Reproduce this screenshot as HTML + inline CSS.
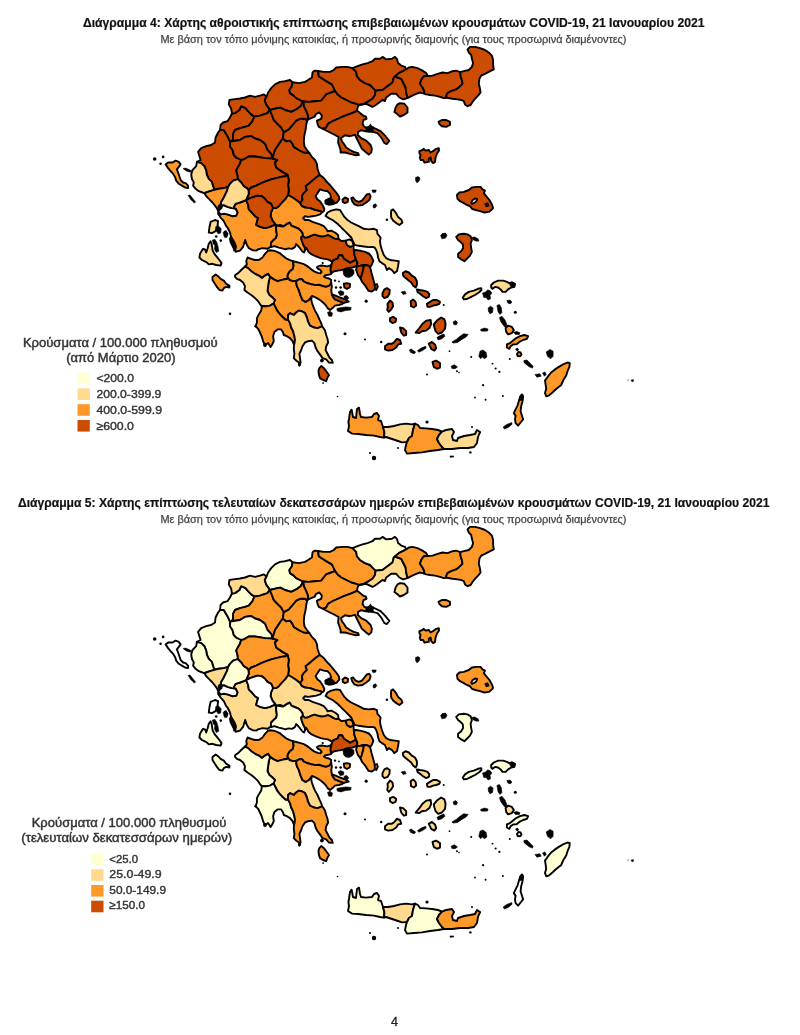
<!DOCTYPE html>
<html><head><meta charset="utf-8"><title>COVID-19 maps</title>
<style>
html,body{margin:0;padding:0;background:#fff}
body{width:800px;height:1035px;overflow:hidden;font-family:"Liberation Sans",sans-serif}
svg{display:block}
.m path{stroke:#000;stroke-linejoin:round}
.m{stroke-width:1.9}
text{font-family:"Liberation Sans",sans-serif}
</style></head><body>
<svg style="will-change:transform" width="800" height="1035" viewBox="0 0 800 1035">
<rect width="800" height="1035" fill="#fff"/>
<g class="m"><path d="M220.0,130.0 218.1,132.5 215.6,137.5 215.0,142.5 211.2,145.0 206.2,146.2 201.2,148.1 198.1,151.9 199.4,156.2 200.6,160.0 196.9,161.9 201.2,163.1 204.4,166.2 206.2,170.6 206.9,175.0 208.8,178.8 211.9,181.9 213.1,186.2 214.4,189.8 218.8,188.8 223.8,188.1 228.1,186.9 230.0,183.8 233.1,180.6 236.9,179.4 238.1,179.4 237.5,175.0 236.2,170.6 238.1,166.9 240.0,163.8 241.2,160.0 236.2,157.5 233.8,155.0 232.5,150.0 230.0,146.2 230.2,141.9 227.5,136.2 223.8,130.0Z" fill="#cc4c02"/><path d="M231.9,113.5 230.0,117.5 227.5,121.2 223.1,122.5 220.6,125.0 220.0,130.0 223.8,130.0 227.5,136.2 230.2,141.9 231.9,141.2 233.1,138.8 233.1,133.8 235.0,130.0 240.0,128.1 245.0,126.9 248.8,125.6 252.5,121.2 254.4,116.5 251.2,114.4 248.1,111.2 245.6,108.1 241.2,106.2 239.4,110.0 235.0,113.1Z" fill="#cc4c02"/><path d="M266.5,96.6 263.8,94.4 260.0,95.6 255.0,96.9 250.0,95.6 245.0,97.5 240.0,98.5 233.1,99.4 229.4,100.0 228.8,104.4 231.2,108.8 231.9,113.5 235.0,113.1 239.4,110.0 241.2,106.2 245.6,108.1 248.1,111.2 251.2,114.4 254.4,116.5 260.0,115.6 267.5,113.1 269.8,110.0 268.8,108.1 266.2,104.4 264.8,100.0Z" fill="#cc4c02"/><path d="M290.0,80.0 285.0,81.2 280.0,81.9 275.0,84.4 271.2,88.1 268.1,92.5 266.5,96.6 264.8,100.0 266.2,104.4 268.8,108.1 269.8,110.0 277.5,108.1 280.2,107.6 285.0,110.0 291.2,111.9 296.2,109.4 300.6,106.2 303.1,101.5 300.0,100.0 296.2,98.1 293.8,95.6 290.0,93.1 289.4,90.0 291.9,86.2 292.5,82.2Z" fill="#cc4c02"/><path d="M318.1,71.0 314.4,70.6 312.5,72.5 311.9,77.5 308.1,80.0 305.0,81.9 298.8,83.1 292.5,82.2 291.9,86.2 289.4,90.0 290.0,93.1 293.8,95.6 296.2,98.1 300.0,100.0 303.1,101.5 308.8,101.9 315.0,101.2 321.2,100.6 323.8,97.5 326.2,94.4 331.2,92.5 335.0,91.2 333.8,88.1 331.9,84.4 327.5,81.9 322.5,78.8 318.8,76.2Z" fill="#cc4c02"/><path d="M352.5,68.1 347.5,66.9 342.5,66.9 336.2,67.5 333.8,70.0 330.0,71.9 323.8,71.9 318.1,71.0 318.8,76.2 322.5,78.8 327.5,81.9 331.9,84.4 333.8,88.1 335.0,91.2 337.5,94.4 341.2,97.5 346.2,100.0 351.2,102.5 356.2,103.8 359.0,105.0 363.8,103.8 367.5,101.9 372.5,98.8 375.0,95.0 375.6,90.6 373.1,88.1 370.0,85.0 365.0,83.1 360.0,80.0 356.9,76.2 356.2,71.9Z" fill="#cc4c02"/><path d="M380.0,58.8 375.0,58.8 372.5,61.2 367.5,63.1 362.5,64.4 357.5,66.2 352.5,68.1 356.2,71.9 356.9,76.2 360.0,80.0 365.0,83.1 370.0,85.0 373.1,88.1 375.6,90.6 382.5,90.0 387.5,86.2 392.5,82.5 393.8,77.5 395.0,76.5 398.8,73.1 403.8,70.6 406.2,69.4 405.0,66.9 401.2,65.6 398.1,63.1 396.9,58.8 395.0,56.9 391.9,58.8 386.2,59.4 382.5,56.9Z" fill="#cc4c02"/><path d="M269.8,110.0 267.5,113.1 260.0,115.6 254.4,116.5 252.5,121.2 248.8,125.6 245.0,126.9 240.0,128.1 235.0,130.0 233.1,133.8 233.1,138.8 231.9,141.2 240.0,140.0 245.0,136.9 251.2,136.0 255.0,138.5 260.0,140.0 265.0,143.8 267.5,150.0 271.2,153.8 272.5,158.5 275.0,150.0 280.0,142.5 282.8,138.5 283.8,132.2 281.9,128.8 281.6,128.1 281.2,127.5 277.5,123.8 273.8,120.0 271.9,115.0Z" fill="#cc4c02"/><path d="M231.9,141.2 230.2,141.9 230.0,146.2 232.5,150.0 233.8,155.0 236.2,157.5 241.2,160.0 243.8,159.4 248.8,156.5 255.0,156.5 265.0,158.1 272.5,158.5 271.2,153.8 267.5,150.0 265.0,143.8 260.0,140.0 255.0,138.5 251.2,136.0 245.0,136.9 240.0,140.0Z" fill="#cc4c02"/><path d="M272.5,158.5 265.0,158.1 255.0,156.5 248.8,156.5 243.8,159.4 241.2,160.0 240.0,163.8 238.1,166.9 236.2,170.6 237.5,175.0 238.1,179.4 241.2,182.5 243.8,186.2 246.9,188.1 248.5,190.2 251.2,187.5 256.2,185.6 261.2,183.1 266.2,181.2 271.2,179.4 276.2,178.1 281.2,176.9 285.6,176.2 287.5,174.6 282.5,171.9 276.2,167.5 275.0,162.5 277.5,160.0Z" fill="#cc4c02"/><path d="M272.5,158.5 277.5,160.0 275.0,162.5 276.2,167.5 282.5,171.9 287.5,174.6 288.8,180.0 288.1,185.0 288.8,190.0 288.1,195.0 292.5,197.5 296.2,200.0 300.0,203.1 302.5,200.0 301.9,196.2 303.8,193.1 306.9,190.0 305.6,186.2 308.8,183.8 312.5,180.6 316.2,177.5 319.8,175.0 318.8,172.5 317.5,168.8 316.9,163.8 315.0,160.0 311.9,156.9 309.4,153.1 303.8,152.5 298.8,150.0 293.8,146.9 292.5,143.8 290.0,140.6 286.2,141.2 282.8,138.5 280.0,142.5 275.0,150.0Z" fill="#cc4c02"/><path d="M335.0,91.2 331.2,92.5 326.2,94.4 323.8,97.5 321.2,100.6 315.0,101.2 308.8,101.9 303.1,101.5 303.8,106.2 306.2,111.2 308.1,116.2 307.2,120.6 308.1,119.4 311.2,118.1 314.4,116.9 316.2,113.8 319.4,112.5 321.9,115.6 321.2,118.8 316.9,120.6 317.5,123.8 318.8,126.9 323.1,128.8 326.2,127.5 328.1,123.8 332.5,121.2 337.5,119.0 343.8,116.2 350.0,113.8 355.0,111.9 356.9,110.6 357.8,106.9 359.0,105.0 356.2,103.8 351.2,102.5 346.2,100.0 341.2,97.5 337.5,94.4Z" fill="#cc4c02"/><path d="M375.6,90.6 375.0,95.0 372.5,98.8 367.5,101.9 363.8,103.8 359.0,105.0 366.2,103.8 372.5,106.9 374.4,106.0 377.5,103.8 382.5,100.0 385.0,101.0 386.2,97.5 391.2,93.8 396.2,93.8 399.4,97.5 403.1,99.4 407.5,98.1 406.2,92.5 405.6,87.5 403.1,82.5 401.2,78.8 395.0,76.5 393.8,77.5 392.5,82.5 387.5,86.2 382.5,90.0Z" fill="#cc4c02"/><path d="M427.8,76.0 426.2,73.1 422.5,70.6 417.5,68.1 412.5,66.9 408.8,67.5 406.2,69.4 403.8,70.6 398.8,73.1 395.0,76.5 401.2,78.8 403.1,82.5 405.6,87.5 406.2,92.5 407.5,98.1 411.2,96.2 416.2,93.8 420.0,92.5 423.8,93.4 424.4,91.2 422.5,87.5 420.0,83.8 421.2,80.0 423.8,76.2Z" fill="#cc4c02"/><path d="M460.2,72.2 456.2,70.6 452.5,71.2 447.5,73.1 442.5,72.5 437.5,73.8 432.5,75.6 427.8,76.0 423.8,76.2 421.2,80.0 420.0,83.8 422.5,87.5 424.4,91.2 423.8,93.4 426.2,94.4 430.0,95.0 435.0,95.6 440.0,96.9 443.8,98.1 446.9,97.8 446.2,96.2 447.5,93.1 451.2,91.2 456.2,89.4 459.4,86.9 462.5,83.8 461.9,80.0 460.6,76.2Z" fill="#cc4c02"/><path d="M446.9,97.8 452.5,98.8 457.5,99.4 461.2,100.0 463.8,101.2 465.0,104.4 467.5,106.2 470.6,105.0 472.5,101.9 475.0,98.8 478.1,95.6 480.6,92.5 480.0,88.8 478.8,83.8 479.4,78.8 481.2,75.6 485.0,73.8 488.8,71.9 491.2,70.6 493.8,69.4 493.1,65.0 493.1,60.0 491.9,55.6 488.8,52.5 485.0,50.0 480.0,48.1 475.0,46.9 470.0,46.9 467.5,49.4 468.8,52.5 471.2,55.0 471.9,58.8 473.1,63.1 471.9,66.9 468.8,70.0 463.8,71.2 460.2,72.2 460.6,76.2 461.9,80.0 462.5,83.8 459.4,86.9 456.2,89.4 451.2,91.2 447.5,93.1 446.2,96.2Z" fill="#cc4c02"/><path d="M356.9,110.6 355.0,111.9 350.0,113.8 343.8,116.2 337.5,119.0 332.5,121.2 328.1,123.8 326.2,127.5 323.1,128.8 325.0,130.0 330.0,132.5 335.0,135.0 338.5,136.9 338.1,142.5 339.4,146.2 340.6,150.0 340.6,152.5 345.0,152.5 350.0,153.8 355.0,155.2 358.8,155.0 358.1,153.1 353.8,151.9 350.0,150.0 346.2,147.5 343.8,143.8 341.9,141.2 341.0,138.1 345.0,135.2 350.0,136.2 355.0,134.8 357.5,140.0 360.0,145.0 361.9,148.8 366.2,152.5 368.8,154.6 371.2,152.5 371.9,148.8 370.6,145.0 366.2,140.6 361.2,138.1 357.8,135.0 358.1,131.9 361.2,130.2 365.6,131.2 372.5,131.9 373.1,127.5 370.0,126.2 367.5,127.5 364.4,126.9 362.5,123.8 363.5,120.0 366.5,118.8 366.0,116.6 363.1,115.6 360.0,113.1Z" fill="#cc4c02"/><path d="M372.5,131.9 377.5,133.1 381.2,137.5 384.4,143.1 386.9,144.0 389.4,141.0 385.0,135.6 380.6,131.2 373.1,127.5Z" fill="#cc4c02"/><path d="M309.4,153.1 306.9,150.0 304.4,146.2 303.8,141.2 304.4,135.0 305.6,130.0 306.2,125.0 307.2,120.6 305.0,118.8 300.0,118.8 296.2,120.6 292.5,125.0 288.8,129.4 283.8,132.2 282.8,138.5 286.2,141.2 290.0,140.6 292.5,143.8 293.8,146.9 298.8,150.0 303.8,152.5Z" fill="#cc4c02"/><path d="M339.4,199.4 338.8,196.2 336.2,192.5 333.1,188.8 330.0,185.0 326.9,181.9 323.8,178.1 319.8,175.0 316.2,177.5 312.5,180.6 308.8,183.8 305.6,186.2 306.9,190.0 303.8,193.1 301.9,196.2 302.5,200.0 300.0,203.1 301.9,206.2 305.0,207.5 310.0,208.1 315.0,210.0 320.0,211.2 322.2,212.2 323.8,211.2 324.4,208.8 322.5,205.0 320.0,201.2 317.5,199.4 315.6,196.2 317.5,193.1 320.0,189.4 323.8,190.6 327.5,191.2 330.0,193.8 331.2,197.5 328.8,198.8 325.6,200.6 325.6,203.4 328.8,204.6 332.5,204.0 336.9,202.5Z" fill="#cc4c02"/><path d="M307.2,120.6 308.1,116.2 306.2,111.2 303.8,106.2 303.1,101.5 300.6,106.2 296.2,109.4 291.2,111.9 285.0,110.0 280.2,107.6 277.5,108.1 269.8,110.0 271.9,115.0 273.8,120.0 277.5,123.8 281.2,127.5 281.6,128.1 283.8,132.2 288.8,129.4 292.5,125.0 296.2,120.6 300.0,118.8 305.0,118.8Z" fill="#cc4c02"/><path d="M322.2,212.2 320.0,211.2 315.0,210.0 310.0,208.1 305.0,207.5 301.9,206.2 300.0,203.1 296.2,200.0 292.5,197.5 288.1,195.0 285.6,198.8 285.0,199.4 282.5,201.9 281.9,202.5 278.8,206.2 276.2,208.1 273.1,208.1 271.2,211.9 270.6,216.2 272.5,220.6 275.0,223.8 276.1,225.6 280.0,225.0 283.6,226.2 286.6,223.9 289.7,222.6 291.4,225.7 294.5,227.0 298.0,228.3 300.6,230.5 302.4,233.1 302.8,236.0 305.0,237.9 307.6,237.5 311.1,235.8 314.6,234.6 318.1,235.8 321.6,236.6 325.1,236.1 327.8,235.1 330.4,236.2 333.0,237.9 335.6,239.0 338.5,238.8 338.1,235.0 335.0,232.5 331.2,230.6 327.5,231.2 326.2,228.8 323.8,226.2 320.0,224.4 316.2,223.1 312.5,221.9 308.8,220.0 305.0,220.0 303.1,218.1 305.0,216.2 308.1,216.9 312.5,216.2 316.2,215.6 320.0,214.4Z" fill="#fe9929"/><path d="M288.1,195.0 288.8,190.0 288.1,185.0 288.8,180.0 287.5,174.6 285.6,176.2 281.2,176.9 276.2,178.1 271.2,179.4 266.2,181.2 261.2,183.1 256.2,185.6 251.2,187.5 248.5,190.2 248.8,193.8 246.9,198.1 246.2,200.2 250.0,198.1 253.8,196.9 257.5,195.6 261.9,196.2 265.0,198.8 267.5,201.9 271.2,203.8 273.1,208.1 276.2,208.1 278.8,206.2 281.9,202.5 282.5,201.9 285.0,199.4Z" fill="#cc4c02"/><path d="M196.9,161.9 196.2,166.2 192.5,170.0 191.2,174.4 191.9,178.8 193.8,182.5 193.1,185.6 195.6,188.8 198.8,191.2 202.5,192.5 204.4,193.1 206.2,192.5 210.0,191.2 214.4,189.8 213.1,186.2 211.9,181.9 208.8,178.8 206.9,175.0 206.2,170.6 204.4,166.2 201.2,163.1Z" fill="#fed98e"/><path d="M204.4,193.1 206.2,196.2 209.4,199.4 212.5,202.5 215.0,205.6 217.2,208.8 218.5,211.9 220.0,208.8 220.6,205.6 221.2,201.9 223.1,198.8 225.0,195.0 226.9,191.2 228.1,186.9 223.8,188.1 218.8,188.8 214.4,189.8 210.0,191.2 206.2,192.5Z" fill="#fe9929"/><path d="M218.5,211.9 218.1,213.8 220.6,217.5 223.8,221.2 226.2,226.2 227.5,227.5 230.0,232.5 231.2,237.5 233.1,241.9 234.4,246.9 235.6,251.9 240.0,250.6 243.1,246.9 244.4,242.5 245.2,240.0 246.9,245.0 248.8,248.1 252.5,250.2 256.2,250.6 258.1,249.4 262.5,248.1 267.5,248.8 270.0,247.1 270.9,247.1 270.9,245.4 271.2,242.5 273.5,240.1 276.0,238.1 276.9,235.0 276.2,230.0 276.1,225.6 273.8,225.0 270.0,226.9 265.0,228.1 260.0,226.9 256.2,225.0 256.9,221.9 258.1,218.1 255.0,216.2 251.9,212.5 248.8,209.4 248.1,205.0 246.2,200.2 240.0,202.5 235.6,203.8 233.8,206.9 233.8,208.4 235.6,208.8 237.5,212.5 236.2,215.6 232.5,216.2 227.5,214.4 223.8,213.8 220.6,214.4Z" fill="#fe9929"/><path d="M220.6,205.6 220.0,208.8 218.5,211.9 220.6,214.4 223.8,213.8 227.5,214.4 232.5,216.2 236.2,215.6 237.5,212.5 235.6,208.8 233.8,208.4 231.9,208.1 227.5,206.9 223.8,205.2Z" fill="#fff"/><path d="M220.6,205.6 223.8,205.2 227.5,206.9 231.9,208.1 233.8,208.4 233.8,206.9 235.6,203.8 240.0,202.5 246.2,200.2 246.9,198.1 248.8,193.8 248.5,190.2 246.9,188.1 243.8,186.2 241.2,182.5 238.1,179.4 236.9,179.4 233.1,180.6 230.0,183.8 228.1,186.9 226.9,191.2 225.0,195.0 223.1,198.8 221.2,201.9Z" fill="#fed98e"/><path d="M273.1,208.1 271.2,203.8 267.5,201.9 265.0,198.8 261.9,196.2 257.5,195.6 253.8,196.9 250.0,198.1 246.2,200.2 248.1,205.0 248.8,209.4 251.9,212.5 255.0,216.2 258.1,218.1 256.9,221.9 256.2,225.0 260.0,226.9 265.0,228.1 270.0,226.9 273.8,225.0 276.1,225.6 275.0,223.8 272.5,220.6 270.6,216.2 271.2,211.9Z" fill="#cc4c02"/><path d="M276.1,225.6 276.2,230.0 276.9,235.0 276.0,238.1 273.5,240.1 271.2,242.5 270.9,245.4 270.9,247.1 274.4,246.2 278.8,247.6 282.2,248.4 285.3,249.3 288.4,248.4 291.9,248.9 294.9,247.1 296.2,244.1 297.6,245.4 299.8,248.0 302.4,251.5 304.1,252.4 305.2,249.6 304.6,247.1 303.2,244.5 301.9,241.0 301.1,237.5 302.8,236.0 302.4,233.1 300.6,230.5 298.0,228.3 294.5,227.0 291.4,225.7 289.7,222.6 287.5,223.8 283.8,226.2 283.6,226.2 283.1,226.6 279.6,226.1Z" fill="#fe9929"/><path d="M302.8,236.0 301.1,237.5 301.9,241.0 303.2,244.5 304.6,247.1 305.2,249.6 305.9,247.6 307.2,249.3 308.5,251.9 311.1,254.1 313.8,255.4 317.2,256.8 320.8,258.1 324.2,258.9 327.8,259.4 330.4,260.7 332.3,262.0 333.4,260.1 337.8,258.4 339.0,255.2 342.1,255.2 343.9,258.8 347.4,261.0 350.0,262.8 353.5,261.0 356.1,259.6 354.4,255.0 353.8,250.2 353.5,245.6 350.0,246.9 346.9,245.0 345.6,240.6 341.2,241.0 338.5,238.8 335.6,239.0 333.0,237.9 330.4,236.2 327.8,235.1 325.1,236.1 321.6,236.6 318.1,235.8 314.6,234.6 311.1,235.8 307.6,237.5 305.0,237.9Z" fill="#cc4c02"/><path d="M270.0,250.2 268.1,250.6 265.0,253.8 262.5,257.5 258.8,260.0 255.0,260.0 251.2,258.8 247.5,257.5 246.2,261.2 246.9,264.4 245.0,266.5 248.1,268.1 251.2,271.2 255.0,273.8 258.8,275.6 261.9,278.1 265.0,275.6 268.1,273.8 270.0,276.9 273.8,279.4 277.5,281.2 281.2,280.2 285.0,279.2 288.5,278.5 287.5,276.9 287.9,274.2 289.7,271.6 292.8,269.0 293.6,265.5 292.8,261.1 289.2,259.8 285.8,258.1 283.1,255.9 280.5,253.7 277.0,251.9 273.5,250.6Z" fill="#fe9929"/><path d="M331.7,263.8 330.4,265.5 326.9,266.4 324.2,265.9 321.6,265.5 319.0,265.9 316.8,267.2 317.7,268.6 320.3,269.9 321.6,272.1 320.3,273.4 317.7,272.9 314.6,271.6 312.0,269.9 309.4,267.7 306.8,265.9 303.2,263.8 299.8,262.9 296.2,262.0 292.8,261.1 293.6,265.5 292.8,269.0 289.7,271.6 287.9,274.2 287.5,276.9 288.5,278.5 289.4,280.0 292.8,281.2 296.9,280.6 299.8,279.0 302.4,279.5 303.2,281.2 306.8,283.0 311.1,284.2 315.5,285.1 319.0,284.8 322.5,286.0 326.0,286.9 329.5,285.6 331.2,283.0 331.0,279.8 329.0,278.5 326.2,277.8 324.0,276.6 325.0,275.4 328.1,274.8 331.0,274.0 331.0,273.4 330.6,268.8Z" fill="#fe9929"/><path d="M332.3,262.0 331.7,263.8 330.6,268.8 331.0,273.4 334.2,271.2 339.5,270.4 343.9,269.5 348.2,268.2 353.5,267.2 357.0,266.0 357.4,262.8 356.1,259.6 353.5,261.0 350.0,262.8 347.4,261.0 343.9,258.8 342.1,255.2 339.0,255.2 337.8,258.4 333.4,260.1Z" fill="#cc4c02"/><path d="M353.5,245.6 352.5,241.2 349.4,239.4 345.6,240.6 346.9,245.0 350.0,246.9Z" fill="#fed98e"/><path d="M353.8,250.2 354.4,255.0 356.1,259.6 357.4,262.8 357.0,266.0 360.5,265.8 364.0,265.0 367.5,265.4 370.1,267.1 371.9,264.5 373.4,260.6 371.2,256.2 368.8,253.5 365.0,251.9 360.0,250.6 356.2,250.0Z" fill="#cc4c02"/><path d="M357.0,266.0 356.1,269.8 357.9,275.0 360.5,278.5 361.8,275.0 363.1,270.6 364.0,265.0 360.5,265.8Z" fill="#cc4c02"/><path d="M360.5,278.5 362.2,282.0 365.8,286.4 368.4,290.8 371.9,291.6 375.4,289.0 374.5,283.8 372.8,277.6 371.4,272.4 370.1,267.1 367.5,265.4 364.0,265.0 363.1,270.6 361.8,275.0Z" fill="#cc4c02"/><path d="M296.9,280.6 292.8,281.2 289.4,280.0 288.5,278.5 285.0,279.2 281.2,280.2 277.5,281.2 273.8,279.4 270.0,276.9 268.8,281.2 268.1,286.2 267.5,291.2 269.4,295.0 272.5,297.5 275.0,300.0 273.5,303.5 275.6,307.5 277.5,311.2 280.0,314.4 283.1,317.5 285.6,319.8 288.1,319.8 288.1,315.0 290.0,313.1 293.8,315.0 296.2,312.5 298.8,310.6 301.9,311.2 305.0,313.1 306.9,317.5 308.1,321.9 310.0,325.6 313.8,327.5 317.5,328.1 321.2,326.9 322.0,326.2 321.2,323.1 319.4,319.4 317.5,315.0 315.0,310.6 313.1,306.2 311.9,302.5 311.2,299.4 311.9,296.0 308.8,300.0 305.6,301.9 302.5,300.0 300.6,295.6 298.8,290.0 296.9,286.2 296.2,282.5Z" fill="#fe9929"/><path d="M331.2,283.0 329.5,285.6 326.0,286.9 322.5,286.0 319.0,284.8 315.5,285.1 311.1,284.2 306.8,283.0 303.2,281.2 302.4,279.5 299.8,279.0 296.9,280.6 296.2,282.5 296.9,286.2 298.8,290.0 300.6,295.6 302.5,300.0 305.6,301.9 308.8,300.0 311.9,296.0 314.4,296.9 316.9,298.1 320.0,300.0 323.1,302.5 325.6,305.0 327.5,308.1 330.0,310.0 332.5,308.1 335.0,305.6 338.8,305.0 342.5,303.8 343.8,302.8 339.4,301.2 335.0,299.4 333.1,296.9 331.9,294.4 331.2,290.0 331.9,286.9Z" fill="#fe9929"/><path d="M343.8,302.8 348.8,301.5 345.0,299.4 340.0,297.5 335.6,295.6 331.9,294.4 333.1,296.9 335.0,299.4 339.4,301.2Z" fill="#cc4c02"/><path d="M270.0,276.9 268.1,273.8 265.0,275.6 261.9,278.1 258.8,275.6 255.0,273.8 251.2,271.2 248.1,268.1 245.0,266.5 241.2,270.0 238.1,273.1 235.2,275.0 235.0,276.9 236.9,278.8 240.0,280.0 243.1,282.5 245.0,286.2 244.4,290.0 247.5,292.5 251.2,295.0 255.0,298.1 258.1,301.2 260.6,305.0 261.9,306.2 266.2,306.2 270.0,305.6 273.5,303.5 275.0,300.0 272.5,297.5 269.4,295.0 267.5,291.2 268.1,286.2 268.8,281.2Z" fill="#fed98e"/><path d="M273.5,303.5 270.0,305.6 266.2,306.2 261.9,306.2 261.2,310.6 258.8,314.4 256.9,318.1 256.9,322.5 255.6,326.2 258.1,328.8 260.0,332.5 261.9,336.9 263.1,341.2 264.8,345.0 268.1,343.1 270.6,346.9 271.9,345.0 273.8,341.2 273.1,336.2 274.4,331.9 277.5,329.4 281.2,329.4 283.1,332.5 283.8,335.0 286.9,336.2 290.0,338.1 292.5,341.2 294.0,344.6 294.4,343.8 295.0,340.0 294.4,336.2 293.1,331.2 291.2,327.5 290.0,323.1 288.1,319.8 285.6,319.8 283.1,317.5 280.0,314.4 277.5,311.2 275.6,307.5Z" fill="#fe9929"/><path d="M288.1,319.8 290.0,323.1 291.2,327.5 293.1,331.2 294.4,336.2 295.0,340.0 294.4,343.8 294.0,344.6 293.8,348.8 294.4,353.8 293.8,358.1 296.2,360.6 298.8,362.5 299.4,365.6 300.6,362.5 300.0,358.1 299.4,353.8 301.2,350.0 302.5,346.2 305.0,342.5 308.1,341.2 311.9,340.6 314.4,343.1 315.6,347.5 317.5,351.2 320.0,354.4 322.5,358.1 326.2,359.4 328.8,362.5 332.8,362.8 331.9,360.0 329.4,357.5 327.5,353.8 325.6,350.0 326.2,346.2 328.1,342.5 327.5,338.8 326.2,335.0 325.0,330.6 323.1,327.5 322.0,326.2 321.2,326.9 317.5,328.1 313.8,327.5 310.0,325.6 308.1,321.9 306.9,317.5 305.0,313.1 301.9,311.2 298.8,310.6 296.2,312.5 293.8,315.0 290.0,313.1 288.1,315.0Z" fill="#fed98e"/><path d="M383.0,427.0 381.0,421.0 378.0,420.0 379.0,416.0 377.0,413.0 374.0,414.0 372.0,417.0 366.0,417.6 361.0,417.0 360.0,414.0 359.0,407.6 357.0,409.0 356.0,418.0 353.0,417.0 351.6,409.6 350.0,412.0 349.0,419.0 348.4,422.0 349.0,426.0 348.0,431.0 352.0,433.6 358.0,434.0 366.0,435.0 374.0,435.6 380.0,437.0 384.0,437.6 384.4,432.0Z" fill="#fe9929"/><path d="M415.0,423.6 412.0,424.4 406.0,423.6 400.0,424.4 394.0,426.0 388.0,427.0 383.0,427.0 384.4,432.0 384.0,437.6 386.0,437.0 392.0,439.0 398.0,441.0 402.0,442.4 407.0,442.0 409.0,438.0 412.0,436.0 413.0,430.0Z" fill="#fed98e"/><path d="M442.0,431.6 438.0,430.0 432.0,429.0 426.0,428.4 420.0,428.0 418.0,425.0 415.0,423.6 413.0,430.0 412.0,436.0 409.0,438.0 407.0,442.0 406.0,445.0 405.0,450.0 407.0,453.6 414.0,453.0 422.0,452.4 430.0,451.0 438.0,450.0 444.0,449.0 442.0,447.0 439.0,443.0 437.0,439.0 439.0,435.0Z" fill="#fe9929"/><path d="M444.0,449.0 452.0,449.0 460.0,448.0 468.0,448.0 474.0,447.0 477.0,443.0 478.0,437.0 480.0,432.0 477.0,430.0 475.0,434.0 470.0,435.0 464.0,436.0 458.0,438.0 457.0,441.0 453.0,440.0 452.0,436.0 454.0,432.0 452.0,429.0 446.0,430.0 442.0,431.6 439.0,435.0 437.0,439.0 439.0,443.0 442.0,447.0Z" fill="#fed98e"/><path d="M400.0,103.1 404.4,103.8 407.5,107.5 407.5,112.5 403.8,115.0 400.0,116.5 396.9,113.8 394.4,111.9 395.6,107.5 397.5,104.4Z" fill="#cc4c02"/><path d="M438.5,121.9 441.9,120.0 446.2,120.0 450.0,121.9 450.0,125.0 446.2,126.9 441.9,126.2 439.4,124.0Z" fill="#cc4c02"/><path d="M325.6,216.0 327.5,212.5 331.2,210.6 336.2,209.4 340.0,210.0 341.9,213.1 344.4,216.9 347.5,220.0 351.2,222.5 355.0,224.4 358.8,226.2 363.8,228.8 368.8,229.4 373.8,228.8 376.9,230.2 377.5,233.8 380.6,237.5 380.0,241.2 380.6,245.6 381.9,250.0 383.8,255.0 386.2,258.1 390.0,260.0 395.0,260.6 398.8,261.2 398.1,266.2 396.9,271.2 394.4,273.1 391.9,270.0 388.8,268.1 386.9,270.0 385.0,265.0 381.9,263.1 379.4,261.2 378.1,257.5 377.5,253.8 376.2,250.0 374.6,247.5 372.5,246.9 368.8,247.1 363.8,246.5 358.8,245.8 354.6,244.8 352.8,241.0 351.2,237.5 348.8,235.0 345.0,231.2 342.5,228.8 340.0,226.2 337.5,223.8 332.5,220.0 328.8,218.1Z" fill="#fed98e"/><path d="M419.4,151.2 422.5,150.0 423.8,148.8 425.6,150.6 428.8,150.0 430.6,152.5 433.8,150.6 436.2,148.8 438.8,148.1 439.0,150.6 436.9,153.8 435.6,157.5 435.0,161.9 433.1,163.1 431.2,161.2 430.6,157.5 428.8,158.8 428.8,161.9 424.4,162.5 423.1,160.0 420.6,160.0 419.8,157.5 420.6,155.0 419.4,153.1Z" fill="#cc4c02"/><path d="M415.6,177.5 418.1,176.5 420.0,178.1 419.0,181.2 416.9,182.8 415.6,180.6Z" fill="#000" stroke-width="0.6"/><path d="M456.9,195.0 459.4,192.5 463.8,191.9 468.8,190.0 471.9,187.5 476.2,186.9 480.6,186.9 482.5,189.4 485.0,190.6 483.8,193.1 486.2,196.2 489.4,200.0 491.9,204.4 493.1,208.1 491.2,210.0 488.8,211.9 484.4,212.5 480.0,211.2 475.6,210.0 471.9,208.8 470.0,206.2 466.9,205.0 463.8,203.1 460.0,201.2 457.5,198.8Z" fill="#cc4c02"/><path d="M471.2,202.8 472.5,200.2 475.0,198.5 477.2,199.0 476.2,201.5 473.8,203.2 472.0,204.0Z" fill="#fff"/><path d="M485.4,204.0 487.5,203.5 488.5,205.6 486.5,206.2Z" fill="#fff"/><path d="M440.6,235.6 442.5,233.5 445.6,233.1 446.9,235.6 445.6,238.1 441.9,238.8Z" fill="#000" stroke-width="0.6"/><path d="M456.2,236.9 458.8,234.4 463.8,233.8 467.5,234.4 470.6,236.2 471.9,240.0 470.6,243.8 471.2,248.1 471.9,251.9 470.0,255.6 466.9,258.8 464.4,261.2 461.2,259.4 458.1,256.9 458.1,253.8 461.2,251.2 463.1,248.1 462.8,244.4 460.6,241.9 458.1,240.0Z" fill="#cc4c02"/><path d="M471.9,237.5 474.4,236.9 478.1,238.8 478.8,241.0 476.2,241.2 473.1,239.8Z" fill="#000" stroke-width="0.6"/><path d="M462.8,297.5 465.0,294.4 468.8,291.9 473.8,290.6 478.1,288.8 481.2,288.1 481.5,290.0 478.8,292.5 475.0,295.0 471.2,296.9 466.9,299.0 463.8,299.4Z" fill="#fed98e"/><path d="M491.2,285.0 493.8,282.5 498.1,280.6 503.1,280.6 506.9,281.9 509.4,283.1 511.9,282.5 515.0,283.8 514.4,286.9 511.2,287.5 508.1,289.4 505.6,291.9 502.5,291.9 500.6,289.4 498.1,287.5 495.0,286.9 492.5,288.8 491.2,287.5Z" fill="#fed98e"/><path d="M508.8,282.8 511.9,281.9 515.2,283.8 514.4,287.2 511.2,287.5 510.0,285.0Z" fill="#000" stroke-width="0.6"/><path d="M482.5,293.1 485.6,291.9 487.5,290.0 490.0,290.6 491.9,293.1 490.0,295.6 490.6,298.8 488.1,300.0 486.2,297.5 483.8,297.5Z" fill="#000" stroke-width="0.6"/><path d="M402.8,273.1 405.6,271.2 408.8,272.5 411.9,275.6 415.0,277.5 416.9,281.2 416.9,285.0 415.6,287.5 413.1,285.6 411.2,282.5 408.1,280.0 405.0,277.5 403.1,275.6Z" fill="#cc4c02"/><path d="M416.9,289.4 420.0,290.0 423.8,290.6 427.5,291.9 429.4,294.4 428.8,296.9 426.2,298.1 423.1,296.2 420.0,293.8 417.5,291.9Z" fill="#cc4c02"/><path d="M426.9,303.8 430.0,301.9 433.1,300.0 436.9,300.0 440.0,301.9 439.4,303.8 436.2,305.0 433.1,305.6 430.0,306.9 427.5,306.9Z" fill="#cc4c02"/><path d="M382.5,293.1 384.4,289.4 386.9,288.1 389.8,290.0 389.4,293.8 387.5,296.9 384.4,298.1 382.5,296.2Z" fill="#cc4c02"/><path d="M387.5,303.8 390.0,300.6 392.5,302.5 393.1,306.2 391.2,309.4 388.8,311.9 387.2,310.0 387.8,306.9Z" fill="#cc4c02"/><path d="M410.6,301.2 413.1,299.4 415.6,301.9 416.2,305.6 413.8,307.5 411.0,306.2Z" fill="#cc4c02"/><path d="M401.2,291.9 405.0,291.2 406.2,293.8 403.1,294.4Z" fill="#000" stroke-width="0.6"/><path d="M390.0,318.1 393.1,316.9 396.2,318.8 395.6,321.9 392.5,323.1 390.0,321.2Z" fill="#cc4c02"/><path d="M400.0,327.5 403.1,328.1 406.2,331.2 406.2,335.0 403.8,335.6 401.2,332.5Z" fill="#cc4c02"/><path d="M415.6,332.5 419.4,328.1 422.5,323.8 426.2,320.6 430.6,320.0 431.2,323.8 429.4,328.1 426.2,330.6 421.9,331.2 419.4,333.1Z" fill="#cc4c02"/><path d="M433.8,324.4 436.9,320.6 441.2,317.5 444.4,319.4 445.6,323.8 445.0,328.8 441.9,332.5 438.1,333.8 435.6,331.2 434.4,327.5Z" fill="#cc4c02"/><path d="M436.9,337.5 440.0,335.6 443.8,334.0 445.0,336.2 441.9,338.8 438.1,340.0Z" fill="#000" stroke-width="0.6"/><path d="M451.9,341.9 456.2,339.4 460.0,336.2 463.8,333.8 468.1,334.4 466.2,336.9 461.9,339.4 457.5,342.5 453.1,343.1Z" fill="#000" stroke-width="0.6"/><path d="M453.1,321.9 455.6,320.6 457.5,322.5 456.2,325.0 453.8,324.4Z" fill="#000" stroke-width="0.6"/><path d="M428.8,343.8 431.9,341.9 435.0,344.4 436.2,348.1 434.4,350.6 431.2,348.8Z" fill="#cc4c02"/><path d="M409.4,350.0 411.2,349.0 415.6,351.9 414.4,353.8 410.6,352.5Z" fill="#000" stroke-width="0.6"/><path d="M417.5,350.6 421.2,348.1 425.6,346.2 426.2,348.1 422.5,350.6 418.8,352.2Z" fill="#000" stroke-width="0.6"/><path d="M385.0,346.2 388.1,343.8 391.9,343.8 394.4,341.9 396.9,338.8 400.0,340.0 401.2,343.8 398.1,344.4 396.2,347.5 392.5,350.0 388.1,350.6 385.0,349.4Z" fill="#cc4c02"/><path d="M432.5,361.9 436.2,360.6 440.0,363.1 440.0,367.5 436.9,368.8 433.8,366.9Z" fill="#cc4c02"/><path d="M451.2,366.2 454.4,364.8 457.5,366.9 455.0,368.8 451.9,368.5Z" fill="#000" stroke-width="0.6"/><path d="M374.8,285.0 376.9,284.0 377.8,286.9 376.2,290.0 374.8,288.8Z" fill="#cc4c02"/><path d="M545.0,380.6 548.1,376.2 551.2,372.5 555.0,369.4 558.8,366.9 563.1,364.4 567.5,362.5 569.8,363.1 569.4,366.9 567.5,371.2 566.2,375.6 563.1,380.6 561.2,385.0 558.1,387.5 555.0,390.0 551.9,393.1 548.8,395.6 546.2,396.2 545.0,393.1 546.2,388.8 545.6,384.4Z" fill="#fe9929"/><path d="M506.9,344.4 510.0,343.1 513.1,340.6 516.2,338.1 520.0,336.2 524.4,335.0 528.1,336.2 526.9,338.8 523.1,340.0 519.4,341.9 516.2,344.4 513.1,344.4 510.6,346.2 509.4,348.8 506.9,347.5Z" fill="#fe9929"/><path d="M505.6,328.1 508.1,325.6 511.9,326.9 513.8,330.0 511.9,333.1 508.1,334.4 506.2,331.9Z" fill="#fe9929"/><path d="M499.4,317.5 501.9,316.2 505.0,320.0 506.9,325.0 505.6,327.8 503.1,325.0 500.6,321.2Z" fill="#000" stroke-width="0.6"/><path d="M496.9,305.6 499.4,304.4 501.2,307.5 501.9,312.5 500.0,314.4 498.1,311.9 497.5,308.8Z" fill="#000" stroke-width="0.6"/><path d="M488.1,308.1 490.6,306.2 493.1,308.1 492.5,312.5 490.0,313.8 488.5,311.2Z" fill="#000" stroke-width="0.6"/><path d="M506.9,300.6 510.0,300.0 511.9,301.9 510.6,303.8 507.8,303.1Z" fill="#000" stroke-width="0.6"/><path d="M513.1,332.2 516.9,331.5 520.0,332.8 519.4,334.5 515.6,334.4Z" fill="#000" stroke-width="0.6"/><path d="M516.9,354.0 518.5,352.0 520.6,352.5 521.5,354.8 520.0,356.2 517.8,356.0Z" fill="#fe9929"/><path d="M515.6,349.0 517.5,348.1 518.8,349.8 517.2,351.2Z" fill="#000" stroke-width="0.6"/><path d="M523.8,360.6 526.9,360.0 530.0,363.1 533.1,366.2 532.5,368.1 529.4,366.9 526.2,364.4 524.0,362.5Z" fill="#000" stroke-width="0.6"/><path d="M546.2,351.9 550.0,349.4 553.1,351.2 553.1,356.2 550.6,358.8 547.5,356.2Z" fill="#000" stroke-width="0.6"/><path d="M535.0,374.4 540.0,373.8 541.2,376.2 536.9,377.2Z" fill="#000" stroke-width="0.6"/><path d="M542.5,373.1 545.0,371.9 546.2,374.4 544.4,376.2Z" fill="#000" stroke-width="0.6"/><path d="M480.0,351.2 483.1,350.0 486.2,352.5 486.9,356.9 484.4,358.8 482.5,356.9 480.6,358.8 478.8,356.2Z" fill="#000" stroke-width="0.6"/><path d="M480.6,329.4 484.4,328.1 488.1,329.0 487.5,330.9 483.8,331.2 481.0,331.0Z" fill="#000" stroke-width="0.6"/><path d="M520.0,396.9 521.9,394.4 523.1,396.2 522.5,401.2 521.2,406.2 520.6,411.2 521.9,415.6 523.1,419.4 520.6,422.5 518.1,425.6 515.6,423.1 515.0,419.4 515.6,415.6 513.8,413.1 515.6,409.4 517.5,405.6 518.8,401.2Z" fill="#fe9929"/><path d="M520.0,396.9 521.9,394.4 523.1,396.2 522.8,400.6 520.2,400.6Z" fill="#000" stroke-width="0.6"/><path d="M503.1,426.9 506.9,424.4 511.9,422.5 511.9,424.4 508.1,427.5 504.4,429.0Z" fill="#000" stroke-width="0.6"/><path d="M165.6,164.4 168.1,162.5 172.5,162.5 175.6,160.6 178.8,161.9 180.6,164.4 178.8,166.9 176.9,169.4 178.1,172.5 179.4,176.2 180.6,180.0 183.1,182.5 185.6,183.1 188.1,185.6 188.1,188.1 185.0,187.5 181.9,185.6 178.8,183.8 176.2,180.6 175.0,176.9 173.1,173.8 170.6,171.2 168.1,168.1Z" fill="#fe9929"/><path d="M188.1,195.6 190.0,195.0 195.6,201.9 194.4,203.1 190.6,199.4Z" fill="#000" stroke-width="0.6"/><path d="M183.1,168.5 185.6,168.1 191.2,170.6 190.6,172.2 186.2,171.0Z" fill="#000" stroke-width="0.6"/><path d="M210.6,221.9 215.0,220.0 218.1,221.2 217.5,226.2 215.6,231.2 211.9,233.1 208.8,232.5 209.4,227.5Z" fill="#fed98e"/><path d="M215.6,226.9 218.1,225.6 221.2,228.8 220.6,233.1 218.1,233.8 216.2,230.6Z" fill="#000" stroke-width="0.6"/><path d="M223.1,232.5 225.6,231.0 228.1,233.8 226.9,237.5 224.4,237.2Z" fill="#000" stroke-width="0.6"/><path d="M199.4,257.5 200.0,253.8 201.9,250.6 203.1,248.8 205.0,249.4 206.2,252.5 207.5,248.8 208.8,243.8 210.6,241.2 211.9,245.0 212.5,250.0 214.4,253.8 216.9,256.9 219.4,260.0 221.5,263.1 220.6,265.6 216.2,265.0 212.5,263.8 208.8,264.4 206.9,262.5 204.4,261.2 201.9,260.0Z" fill="#fed98e"/><path d="M212.5,240.0 215.0,239.4 216.9,242.5 218.1,246.9 218.8,251.2 216.2,252.5 214.4,248.8 215.0,245.6 213.1,243.8Z" fill="#000" stroke-width="0.6"/><path d="M212.5,276.9 215.6,274.4 218.1,276.2 220.6,278.8 223.8,280.6 226.2,283.8 229.4,285.6 229.4,287.5 226.2,286.9 223.8,288.1 222.5,290.6 219.4,290.0 216.9,286.9 214.4,283.1 212.5,280.0Z" fill="#fe9929"/><path d="M319.4,368.1 321.2,366.0 323.8,368.1 326.2,371.2 329.0,375.0 327.5,377.5 326.2,381.2 323.1,380.0 320.0,378.1 318.8,374.4 318.5,370.6Z" fill="#cc4c02"/><path d="M343.0,270.0 345.6,268.2 350.0,268.2 353.8,270.0 354.0,273.5 351.9,276.2 348.8,277.5 345.6,276.9 343.5,274.4Z" fill="#000" stroke-width="0.6"/><path d="M343.8,283.8 346.9,283.1 350.0,284.0 349.8,287.2 346.9,289.0 344.4,287.5Z" fill="#cc4c02"/><path d="M338.1,291.9 340.6,290.6 343.8,291.9 343.5,295.0 340.0,295.6Z" fill="#000" stroke-width="0.6"/><path d="M344.0,296.2 346.9,295.6 348.8,298.1 346.9,300.0 344.4,298.8Z" fill="#000" stroke-width="0.6"/><path d="M336.9,308.5 341.2,307.5 346.2,306.9 351.2,307.5 350.6,310.0 345.6,310.6 340.6,311.9 337.2,311.0Z" fill="#000" stroke-width="0.6"/><path d="M327.5,312.5 330.0,311.2 332.5,313.1 331.9,316.2 328.8,316.2Z" fill="#000" stroke-width="0.6"/><path d="M342.5,199.4 345.0,197.5 348.1,198.8 347.8,201.9 345.0,203.1 342.8,201.9Z" fill="#cc4c02"/><path d="M351.2,198.1 353.1,197.5 355.6,200.6 358.8,201.9 361.9,200.6 364.4,197.5 366.9,194.4 369.4,193.8 370.6,196.2 369.4,200.0 366.2,202.5 362.5,205.0 358.1,205.6 354.4,204.4 352.2,201.2Z" fill="#cc4c02"/><path d="M373.1,205.0 375.6,203.8 376.9,205.6 375.0,208.1 373.1,207.5Z" fill="#000" stroke-width="0.6"/><path d="M371.9,190.0 376.2,190.0 375.6,192.2 372.8,192.5Z" fill="#000" stroke-width="0.6"/><path d="M391.2,210.6 393.1,209.4 395.6,212.5 398.1,216.9 401.2,219.4 402.5,222.5 399.4,225.0 396.2,223.1 393.1,220.6 391.2,217.5 391.0,213.8Z" fill="#fed98e"/><path d="M365.6,127.8 368.8,126.9 370.6,123.8 371.9,127.5 372.2,131.2 368.8,132.2 366.0,131.2Z" fill="#000" stroke-width="0.6"/><path d="M325.0,200.2 328.1,198.8 331.9,198.8 334.4,201.0 335.0,203.8 332.5,205.0 328.1,205.0 325.2,203.8Z" fill="#000" stroke-width="0.6"/><path d="M218.5,205.0 221.2,203.1 222.8,205.6 221.9,208.8 219.4,210.0 217.8,207.8Z" fill="#000" stroke-width="0.6"/><path d="M229.8,237.5 231.9,236.9 234.4,241.2 236.5,245.6 236.0,250.6 233.8,251.2 232.5,246.2 230.6,241.9Z" fill="#000" stroke-width="0.6"/><path d="M224.0,231.5 226.2,230.6 227.8,233.8 226.9,236.2 224.8,235.6Z" fill="#000" stroke-width="0.6"/><path d="M229.4,238.1 231.9,237.5 235.0,242.5 236.2,247.5 234.4,250.0 231.9,246.2 230.0,242.5Z" fill="#000" stroke-width="0.6"/><g fill="#000" stroke="none"><circle cx="265.0" cy="345.0" r="1.9"/><circle cx="255.6" cy="326.2" r="1.2"/><circle cx="321.9" cy="360.6" r="1.9"/><circle cx="299.4" cy="365.0" r="1.3"/><circle cx="632.5" cy="380.6" r="1.4"/><circle cx="628.0" cy="380.0" r="0.6"/><circle cx="509.8" cy="359.0" r="1.0"/><circle cx="495.6" cy="368.5" r="1.1"/><circle cx="499.4" cy="371.9" r="1.1"/><circle cx="483.1" cy="385.2" r="1.1"/><circle cx="502.9" cy="396.0" r="1.0"/><circle cx="515.3" cy="312.2" r="1.5"/><circle cx="485.6" cy="399.7" r="1.0"/><circle cx="480.0" cy="432.5" r="0.9"/><circle cx="381.2" cy="342.0" r="1.2"/><circle cx="427.0" cy="374.5" r="1.0"/><circle cx="457.0" cy="371.2" r="1.0"/><circle cx="459.0" cy="372.5" r="0.8"/><circle cx="449.5" cy="351.2" r="0.9"/><circle cx="471.2" cy="357.0" r="1.0"/><circle cx="492.5" cy="363.7" r="0.9"/><circle cx="475.0" cy="397.5" r="0.9"/><circle cx="427.0" cy="422.0" r="1.6"/><circle cx="472.0" cy="427.0" r="1.0"/><circle cx="374.0" cy="458.0" r="2.2"/><circle cx="370.0" cy="453.0" r="1.0"/><circle cx="398.0" cy="448.0" r="1.0"/><circle cx="451.0" cy="456.6" r="1.2"/><circle cx="453.0" cy="456.6" r="1.0"/><circle cx="470.4" cy="452.4" r="1.2"/><circle cx="154.7" cy="159.0" r="1.8"/><circle cx="163.1" cy="156.9" r="1.3"/><circle cx="160.6" cy="163.7" r="1.3"/><circle cx="216.2" cy="236.5" r="1.3"/><circle cx="220.8" cy="240.6" r="1.3"/><circle cx="230.0" cy="313.8" r="1.3"/><circle cx="323.1" cy="383.1" r="0.9"/><circle cx="337.5" cy="396.5" r="0.8"/><circle cx="335.0" cy="280.6" r="1.2"/><circle cx="339.0" cy="281.5" r="0.9"/><circle cx="336.0" cy="287.5" r="1.2"/><circle cx="340.6" cy="287.5" r="1.3"/><circle cx="366.2" cy="301.2" r="1.6"/><circle cx="345.0" cy="333.7" r="1.5"/><circle cx="365.0" cy="339.4" r="1.0"/><circle cx="322.7" cy="263.1" r="1.1"/><circle cx="443.7" cy="305.0" r="1.0"/><circle cx="386.9" cy="219.7" r="1.3"/></g></g>
<g class="m" transform="translate(0,480)"><path d="M220.0,130.0 218.1,132.5 215.6,137.5 215.0,142.5 211.2,145.0 206.2,146.2 201.2,148.1 198.1,151.9 199.4,156.2 200.6,160.0 196.9,161.9 201.2,163.1 204.4,166.2 206.2,170.6 206.9,175.0 208.8,178.8 211.9,181.9 213.1,186.2 214.4,189.8 218.8,188.8 223.8,188.1 228.1,186.9 230.0,183.8 233.1,180.6 236.9,179.4 238.1,179.4 237.5,175.0 236.2,170.6 238.1,166.9 240.0,163.8 241.2,160.0 236.2,157.5 233.8,155.0 232.5,150.0 230.0,146.2 230.2,141.9 227.5,136.2 223.8,130.0Z" fill="#ffffd4"/><path d="M231.9,113.5 230.0,117.5 227.5,121.2 223.1,122.5 220.6,125.0 220.0,130.0 223.8,130.0 227.5,136.2 230.2,141.9 231.9,141.2 233.1,138.8 233.1,133.8 235.0,130.0 240.0,128.1 245.0,126.9 248.8,125.6 252.5,121.2 254.4,116.5 251.2,114.4 248.1,111.2 245.6,108.1 241.2,106.2 239.4,110.0 235.0,113.1Z" fill="#ffffd4"/><path d="M266.5,96.6 263.8,94.4 260.0,95.6 255.0,96.9 250.0,95.6 245.0,97.5 240.0,98.5 233.1,99.4 229.4,100.0 228.8,104.4 231.2,108.8 231.9,113.5 235.0,113.1 239.4,110.0 241.2,106.2 245.6,108.1 248.1,111.2 251.2,114.4 254.4,116.5 260.0,115.6 267.5,113.1 269.8,110.0 268.8,108.1 266.2,104.4 264.8,100.0Z" fill="#fed98e"/><path d="M290.0,80.0 285.0,81.2 280.0,81.9 275.0,84.4 271.2,88.1 268.1,92.5 266.5,96.6 264.8,100.0 266.2,104.4 268.8,108.1 269.8,110.0 277.5,108.1 280.2,107.6 285.0,110.0 291.2,111.9 296.2,109.4 300.6,106.2 303.1,101.5 300.0,100.0 296.2,98.1 293.8,95.6 290.0,93.1 289.4,90.0 291.9,86.2 292.5,82.2Z" fill="#ffffd4"/><path d="M318.1,71.0 314.4,70.6 312.5,72.5 311.9,77.5 308.1,80.0 305.0,81.9 298.8,83.1 292.5,82.2 291.9,86.2 289.4,90.0 290.0,93.1 293.8,95.6 296.2,98.1 300.0,100.0 303.1,101.5 308.8,101.9 315.0,101.2 321.2,100.6 323.8,97.5 326.2,94.4 331.2,92.5 335.0,91.2 333.8,88.1 331.9,84.4 327.5,81.9 322.5,78.8 318.8,76.2Z" fill="#fe9929"/><path d="M352.5,68.1 347.5,66.9 342.5,66.9 336.2,67.5 333.8,70.0 330.0,71.9 323.8,71.9 318.1,71.0 318.8,76.2 322.5,78.8 327.5,81.9 331.9,84.4 333.8,88.1 335.0,91.2 337.5,94.4 341.2,97.5 346.2,100.0 351.2,102.5 356.2,103.8 359.0,105.0 363.8,103.8 367.5,101.9 372.5,98.8 375.0,95.0 375.6,90.6 373.1,88.1 370.0,85.0 365.0,83.1 360.0,80.0 356.9,76.2 356.2,71.9Z" fill="#fe9929"/><path d="M380.0,58.8 375.0,58.8 372.5,61.2 367.5,63.1 362.5,64.4 357.5,66.2 352.5,68.1 356.2,71.9 356.9,76.2 360.0,80.0 365.0,83.1 370.0,85.0 373.1,88.1 375.6,90.6 382.5,90.0 387.5,86.2 392.5,82.5 393.8,77.5 395.0,76.5 398.8,73.1 403.8,70.6 406.2,69.4 405.0,66.9 401.2,65.6 398.1,63.1 396.9,58.8 395.0,56.9 391.9,58.8 386.2,59.4 382.5,56.9Z" fill="#ffffd4"/><path d="M269.8,110.0 267.5,113.1 260.0,115.6 254.4,116.5 252.5,121.2 248.8,125.6 245.0,126.9 240.0,128.1 235.0,130.0 233.1,133.8 233.1,138.8 231.9,141.2 240.0,140.0 245.0,136.9 251.2,136.0 255.0,138.5 260.0,140.0 265.0,143.8 267.5,150.0 271.2,153.8 272.5,158.5 275.0,150.0 280.0,142.5 282.8,138.5 283.8,132.2 281.9,128.8 281.6,128.1 281.2,127.5 277.5,123.8 273.8,120.0 271.9,115.0Z" fill="#fe9929"/><path d="M231.9,141.2 230.2,141.9 230.0,146.2 232.5,150.0 233.8,155.0 236.2,157.5 241.2,160.0 243.8,159.4 248.8,156.5 255.0,156.5 265.0,158.1 272.5,158.5 271.2,153.8 267.5,150.0 265.0,143.8 260.0,140.0 255.0,138.5 251.2,136.0 245.0,136.9 240.0,140.0Z" fill="#ffffd4"/><path d="M272.5,158.5 265.0,158.1 255.0,156.5 248.8,156.5 243.8,159.4 241.2,160.0 240.0,163.8 238.1,166.9 236.2,170.6 237.5,175.0 238.1,179.4 241.2,182.5 243.8,186.2 246.9,188.1 248.5,190.2 251.2,187.5 256.2,185.6 261.2,183.1 266.2,181.2 271.2,179.4 276.2,178.1 281.2,176.9 285.6,176.2 287.5,174.6 282.5,171.9 276.2,167.5 275.0,162.5 277.5,160.0Z" fill="#fe9929"/><path d="M272.5,158.5 277.5,160.0 275.0,162.5 276.2,167.5 282.5,171.9 287.5,174.6 288.8,180.0 288.1,185.0 288.8,190.0 288.1,195.0 292.5,197.5 296.2,200.0 300.0,203.1 302.5,200.0 301.9,196.2 303.8,193.1 306.9,190.0 305.6,186.2 308.8,183.8 312.5,180.6 316.2,177.5 319.8,175.0 318.8,172.5 317.5,168.8 316.9,163.8 315.0,160.0 311.9,156.9 309.4,153.1 303.8,152.5 298.8,150.0 293.8,146.9 292.5,143.8 290.0,140.6 286.2,141.2 282.8,138.5 280.0,142.5 275.0,150.0Z" fill="#fe9929"/><path d="M335.0,91.2 331.2,92.5 326.2,94.4 323.8,97.5 321.2,100.6 315.0,101.2 308.8,101.9 303.1,101.5 303.8,106.2 306.2,111.2 308.1,116.2 307.2,120.6 308.1,119.4 311.2,118.1 314.4,116.9 316.2,113.8 319.4,112.5 321.9,115.6 321.2,118.8 316.9,120.6 317.5,123.8 318.8,126.9 323.1,128.8 326.2,127.5 328.1,123.8 332.5,121.2 337.5,119.0 343.8,116.2 350.0,113.8 355.0,111.9 356.9,110.6 357.8,106.9 359.0,105.0 356.2,103.8 351.2,102.5 346.2,100.0 341.2,97.5 337.5,94.4Z" fill="#fe9929"/><path d="M375.6,90.6 375.0,95.0 372.5,98.8 367.5,101.9 363.8,103.8 359.0,105.0 366.2,103.8 372.5,106.9 374.4,106.0 377.5,103.8 382.5,100.0 385.0,101.0 386.2,97.5 391.2,93.8 396.2,93.8 399.4,97.5 403.1,99.4 407.5,98.1 406.2,92.5 405.6,87.5 403.1,82.5 401.2,78.8 395.0,76.5 393.8,77.5 392.5,82.5 387.5,86.2 382.5,90.0Z" fill="#fed98e"/><path d="M427.8,76.0 426.2,73.1 422.5,70.6 417.5,68.1 412.5,66.9 408.8,67.5 406.2,69.4 403.8,70.6 398.8,73.1 395.0,76.5 401.2,78.8 403.1,82.5 405.6,87.5 406.2,92.5 407.5,98.1 411.2,96.2 416.2,93.8 420.0,92.5 423.8,93.4 424.4,91.2 422.5,87.5 420.0,83.8 421.2,80.0 423.8,76.2Z" fill="#fe9929"/><path d="M460.2,72.2 456.2,70.6 452.5,71.2 447.5,73.1 442.5,72.5 437.5,73.8 432.5,75.6 427.8,76.0 423.8,76.2 421.2,80.0 420.0,83.8 422.5,87.5 424.4,91.2 423.8,93.4 426.2,94.4 430.0,95.0 435.0,95.6 440.0,96.9 443.8,98.1 446.9,97.8 446.2,96.2 447.5,93.1 451.2,91.2 456.2,89.4 459.4,86.9 462.5,83.8 461.9,80.0 460.6,76.2Z" fill="#fe9929"/><path d="M446.9,97.8 452.5,98.8 457.5,99.4 461.2,100.0 463.8,101.2 465.0,104.4 467.5,106.2 470.6,105.0 472.5,101.9 475.0,98.8 478.1,95.6 480.6,92.5 480.0,88.8 478.8,83.8 479.4,78.8 481.2,75.6 485.0,73.8 488.8,71.9 491.2,70.6 493.8,69.4 493.1,65.0 493.1,60.0 491.9,55.6 488.8,52.5 485.0,50.0 480.0,48.1 475.0,46.9 470.0,46.9 467.5,49.4 468.8,52.5 471.2,55.0 471.9,58.8 473.1,63.1 471.9,66.9 468.8,70.0 463.8,71.2 460.2,72.2 460.6,76.2 461.9,80.0 462.5,83.8 459.4,86.9 456.2,89.4 451.2,91.2 447.5,93.1 446.2,96.2Z" fill="#fe9929"/><path d="M356.9,110.6 355.0,111.9 350.0,113.8 343.8,116.2 337.5,119.0 332.5,121.2 328.1,123.8 326.2,127.5 323.1,128.8 325.0,130.0 330.0,132.5 335.0,135.0 338.5,136.9 338.1,142.5 339.4,146.2 340.6,150.0 340.6,152.5 345.0,152.5 350.0,153.8 355.0,155.2 358.8,155.0 358.1,153.1 353.8,151.9 350.0,150.0 346.2,147.5 343.8,143.8 341.9,141.2 341.0,138.1 345.0,135.2 350.0,136.2 355.0,134.8 357.5,140.0 360.0,145.0 361.9,148.8 366.2,152.5 368.8,154.6 371.2,152.5 371.9,148.8 370.6,145.0 366.2,140.6 361.2,138.1 357.8,135.0 358.1,131.9 361.2,130.2 365.6,131.2 372.5,131.9 373.1,127.5 370.0,126.2 367.5,127.5 364.4,126.9 362.5,123.8 363.5,120.0 366.5,118.8 366.0,116.6 363.1,115.6 360.0,113.1Z" fill="#fe9929"/><path d="M372.5,131.9 377.5,133.1 381.2,137.5 384.4,143.1 386.9,144.0 389.4,141.0 385.0,135.6 380.6,131.2 373.1,127.5Z" fill="#fff"/><path d="M309.4,153.1 306.9,150.0 304.4,146.2 303.8,141.2 304.4,135.0 305.6,130.0 306.2,125.0 307.2,120.6 305.0,118.8 300.0,118.8 296.2,120.6 292.5,125.0 288.8,129.4 283.8,132.2 282.8,138.5 286.2,141.2 290.0,140.6 292.5,143.8 293.8,146.9 298.8,150.0 303.8,152.5Z" fill="#fe9929"/><path d="M339.4,199.4 338.8,196.2 336.2,192.5 333.1,188.8 330.0,185.0 326.9,181.9 323.8,178.1 319.8,175.0 316.2,177.5 312.5,180.6 308.8,183.8 305.6,186.2 306.9,190.0 303.8,193.1 301.9,196.2 302.5,200.0 300.0,203.1 301.9,206.2 305.0,207.5 310.0,208.1 315.0,210.0 320.0,211.2 322.2,212.2 323.8,211.2 324.4,208.8 322.5,205.0 320.0,201.2 317.5,199.4 315.6,196.2 317.5,193.1 320.0,189.4 323.8,190.6 327.5,191.2 330.0,193.8 331.2,197.5 328.8,198.8 325.6,200.6 325.6,203.4 328.8,204.6 332.5,204.0 336.9,202.5Z" fill="#fe9929"/><path d="M307.2,120.6 308.1,116.2 306.2,111.2 303.8,106.2 303.1,101.5 300.6,106.2 296.2,109.4 291.2,111.9 285.0,110.0 280.2,107.6 277.5,108.1 269.8,110.0 271.9,115.0 273.8,120.0 277.5,123.8 281.2,127.5 281.6,128.1 283.8,132.2 288.8,129.4 292.5,125.0 296.2,120.6 300.0,118.8 305.0,118.8Z" fill="#fe9929"/><path d="M322.2,212.2 320.0,211.2 315.0,210.0 310.0,208.1 305.0,207.5 301.9,206.2 300.0,203.1 296.2,200.0 292.5,197.5 288.1,195.0 285.6,198.8 285.0,199.4 282.5,201.9 281.9,202.5 278.8,206.2 276.2,208.1 273.1,208.1 271.2,211.9 270.6,216.2 272.5,220.6 275.0,223.8 276.1,225.6 280.0,225.0 283.6,226.2 286.6,223.9 289.7,222.6 291.4,225.7 294.5,227.0 298.0,228.3 300.6,230.5 302.4,233.1 302.8,236.0 305.0,237.9 307.6,237.5 311.1,235.8 314.6,234.6 318.1,235.8 321.6,236.6 325.1,236.1 327.8,235.1 330.4,236.2 333.0,237.9 335.6,239.0 338.5,238.8 338.1,235.0 335.0,232.5 331.2,230.6 327.5,231.2 326.2,228.8 323.8,226.2 320.0,224.4 316.2,223.1 312.5,221.9 308.8,220.0 305.0,220.0 303.1,218.1 305.0,216.2 308.1,216.9 312.5,216.2 316.2,215.6 320.0,214.4Z" fill="#fed98e"/><path d="M288.1,195.0 288.8,190.0 288.1,185.0 288.8,180.0 287.5,174.6 285.6,176.2 281.2,176.9 276.2,178.1 271.2,179.4 266.2,181.2 261.2,183.1 256.2,185.6 251.2,187.5 248.5,190.2 248.8,193.8 246.9,198.1 246.2,200.2 250.0,198.1 253.8,196.9 257.5,195.6 261.9,196.2 265.0,198.8 267.5,201.9 271.2,203.8 273.1,208.1 276.2,208.1 278.8,206.2 281.9,202.5 282.5,201.9 285.0,199.4Z" fill="#fe9929"/><path d="M196.9,161.9 196.2,166.2 192.5,170.0 191.2,174.4 191.9,178.8 193.8,182.5 193.1,185.6 195.6,188.8 198.8,191.2 202.5,192.5 204.4,193.1 206.2,192.5 210.0,191.2 214.4,189.8 213.1,186.2 211.9,181.9 208.8,178.8 206.9,175.0 206.2,170.6 204.4,166.2 201.2,163.1Z" fill="#ffffd4"/><path d="M204.4,193.1 206.2,196.2 209.4,199.4 212.5,202.5 215.0,205.6 217.2,208.8 218.5,211.9 220.0,208.8 220.6,205.6 221.2,201.9 223.1,198.8 225.0,195.0 226.9,191.2 228.1,186.9 223.8,188.1 218.8,188.8 214.4,189.8 210.0,191.2 206.2,192.5Z" fill="#fed98e"/><path d="M218.5,211.9 218.1,213.8 220.6,217.5 223.8,221.2 226.2,226.2 227.5,227.5 230.0,232.5 231.2,237.5 233.1,241.9 234.4,246.9 235.6,251.9 240.0,250.6 243.1,246.9 244.4,242.5 245.2,240.0 246.9,245.0 248.8,248.1 252.5,250.2 256.2,250.6 258.1,249.4 262.5,248.1 267.5,248.8 270.0,247.1 270.9,247.1 270.9,245.4 271.2,242.5 273.5,240.1 276.0,238.1 276.9,235.0 276.2,230.0 276.1,225.6 273.8,225.0 270.0,226.9 265.0,228.1 260.0,226.9 256.2,225.0 256.9,221.9 258.1,218.1 255.0,216.2 251.9,212.5 248.8,209.4 248.1,205.0 246.2,200.2 240.0,202.5 235.6,203.8 233.8,206.9 233.8,208.4 235.6,208.8 237.5,212.5 236.2,215.6 232.5,216.2 227.5,214.4 223.8,213.8 220.6,214.4Z" fill="#fed98e"/><path d="M220.6,205.6 220.0,208.8 218.5,211.9 220.6,214.4 223.8,213.8 227.5,214.4 232.5,216.2 236.2,215.6 237.5,212.5 235.6,208.8 233.8,208.4 231.9,208.1 227.5,206.9 223.8,205.2Z" fill="#fff"/><path d="M220.6,205.6 223.8,205.2 227.5,206.9 231.9,208.1 233.8,208.4 233.8,206.9 235.6,203.8 240.0,202.5 246.2,200.2 246.9,198.1 248.8,193.8 248.5,190.2 246.9,188.1 243.8,186.2 241.2,182.5 238.1,179.4 236.9,179.4 233.1,180.6 230.0,183.8 228.1,186.9 226.9,191.2 225.0,195.0 223.1,198.8 221.2,201.9Z" fill="#ffffd4"/><path d="M273.1,208.1 271.2,203.8 267.5,201.9 265.0,198.8 261.9,196.2 257.5,195.6 253.8,196.9 250.0,198.1 246.2,200.2 248.1,205.0 248.8,209.4 251.9,212.5 255.0,216.2 258.1,218.1 256.9,221.9 256.2,225.0 260.0,226.9 265.0,228.1 270.0,226.9 273.8,225.0 276.1,225.6 275.0,223.8 272.5,220.6 270.6,216.2 271.2,211.9Z" fill="#fff"/><path d="M276.1,225.6 276.2,230.0 276.9,235.0 276.0,238.1 273.5,240.1 271.2,242.5 270.9,245.4 270.9,247.1 274.4,246.2 278.8,247.6 282.2,248.4 285.3,249.3 288.4,248.4 291.9,248.9 294.9,247.1 296.2,244.1 297.6,245.4 299.8,248.0 302.4,251.5 304.1,252.4 305.2,249.6 304.6,247.1 303.2,244.5 301.9,241.0 301.1,237.5 302.8,236.0 302.4,233.1 300.6,230.5 298.0,228.3 294.5,227.0 291.4,225.7 289.7,222.6 287.5,223.8 283.8,226.2 283.6,226.2 283.1,226.6 279.6,226.1Z" fill="#ffffd4"/><path d="M302.8,236.0 301.1,237.5 301.9,241.0 303.2,244.5 304.6,247.1 305.2,249.6 305.9,247.6 307.2,249.3 308.5,251.9 311.1,254.1 313.8,255.4 317.2,256.8 320.8,258.1 324.2,258.9 327.8,259.4 330.4,260.7 332.3,262.0 333.4,260.1 337.8,258.4 339.0,255.2 342.1,255.2 343.9,258.8 347.4,261.0 350.0,262.8 353.5,261.0 356.1,259.6 354.4,255.0 353.8,250.2 353.5,245.6 350.0,246.9 346.9,245.0 345.6,240.6 341.2,241.0 338.5,238.8 335.6,239.0 333.0,237.9 330.4,236.2 327.8,235.1 325.1,236.1 321.6,236.6 318.1,235.8 314.6,234.6 311.1,235.8 307.6,237.5 305.0,237.9Z" fill="#fe9929"/><path d="M270.0,250.2 268.1,250.6 265.0,253.8 262.5,257.5 258.8,260.0 255.0,260.0 251.2,258.8 247.5,257.5 246.2,261.2 246.9,264.4 245.0,266.5 248.1,268.1 251.2,271.2 255.0,273.8 258.8,275.6 261.9,278.1 265.0,275.6 268.1,273.8 270.0,276.9 273.8,279.4 277.5,281.2 281.2,280.2 285.0,279.2 288.5,278.5 287.5,276.9 287.9,274.2 289.7,271.6 292.8,269.0 293.6,265.5 292.8,261.1 289.2,259.8 285.8,258.1 283.1,255.9 280.5,253.7 277.0,251.9 273.5,250.6Z" fill="#fe9929"/><path d="M331.7,263.8 330.4,265.5 326.9,266.4 324.2,265.9 321.6,265.5 319.0,265.9 316.8,267.2 317.7,268.6 320.3,269.9 321.6,272.1 320.3,273.4 317.7,272.9 314.6,271.6 312.0,269.9 309.4,267.7 306.8,265.9 303.2,263.8 299.8,262.9 296.2,262.0 292.8,261.1 293.6,265.5 292.8,269.0 289.7,271.6 287.9,274.2 287.5,276.9 288.5,278.5 289.4,280.0 292.8,281.2 296.9,280.6 299.8,279.0 302.4,279.5 303.2,281.2 306.8,283.0 311.1,284.2 315.5,285.1 319.0,284.8 322.5,286.0 326.0,286.9 329.5,285.6 331.2,283.0 331.0,279.8 329.0,278.5 326.2,277.8 324.0,276.6 325.0,275.4 328.1,274.8 331.0,274.0 331.0,273.4 330.6,268.8Z" fill="#fe9929"/><path d="M332.3,262.0 331.7,263.8 330.6,268.8 331.0,273.4 334.2,271.2 339.5,270.4 343.9,269.5 348.2,268.2 353.5,267.2 357.0,266.0 357.4,262.8 356.1,259.6 353.5,261.0 350.0,262.8 347.4,261.0 343.9,258.8 342.1,255.2 339.0,255.2 337.8,258.4 333.4,260.1Z" fill="#cc4c02"/><path d="M353.5,245.6 352.5,241.2 349.4,239.4 345.6,240.6 346.9,245.0 350.0,246.9Z" fill="#fe9929"/><path d="M353.8,250.2 354.4,255.0 356.1,259.6 357.4,262.8 357.0,266.0 360.5,265.8 364.0,265.0 367.5,265.4 370.1,267.1 371.9,264.5 373.4,260.6 371.2,256.2 368.8,253.5 365.0,251.9 360.0,250.6 356.2,250.0Z" fill="#fe9929"/><path d="M357.0,266.0 356.1,269.8 357.9,275.0 360.5,278.5 361.8,275.0 363.1,270.6 364.0,265.0 360.5,265.8Z" fill="#fe9929"/><path d="M360.5,278.5 362.2,282.0 365.8,286.4 368.4,290.8 371.9,291.6 375.4,289.0 374.5,283.8 372.8,277.6 371.4,272.4 370.1,267.1 367.5,265.4 364.0,265.0 363.1,270.6 361.8,275.0Z" fill="#fe9929"/><path d="M296.9,280.6 292.8,281.2 289.4,280.0 288.5,278.5 285.0,279.2 281.2,280.2 277.5,281.2 273.8,279.4 270.0,276.9 268.8,281.2 268.1,286.2 267.5,291.2 269.4,295.0 272.5,297.5 275.0,300.0 273.5,303.5 275.6,307.5 277.5,311.2 280.0,314.4 283.1,317.5 285.6,319.8 288.1,319.8 288.1,315.0 290.0,313.1 293.8,315.0 296.2,312.5 298.8,310.6 301.9,311.2 305.0,313.1 306.9,317.5 308.1,321.9 310.0,325.6 313.8,327.5 317.5,328.1 321.2,326.9 322.0,326.2 321.2,323.1 319.4,319.4 317.5,315.0 315.0,310.6 313.1,306.2 311.9,302.5 311.2,299.4 311.9,296.0 308.8,300.0 305.6,301.9 302.5,300.0 300.6,295.6 298.8,290.0 296.9,286.2 296.2,282.5Z" fill="#fed98e"/><path d="M331.2,283.0 329.5,285.6 326.0,286.9 322.5,286.0 319.0,284.8 315.5,285.1 311.1,284.2 306.8,283.0 303.2,281.2 302.4,279.5 299.8,279.0 296.9,280.6 296.2,282.5 296.9,286.2 298.8,290.0 300.6,295.6 302.5,300.0 305.6,301.9 308.8,300.0 311.9,296.0 314.4,296.9 316.9,298.1 320.0,300.0 323.1,302.5 325.6,305.0 327.5,308.1 330.0,310.0 332.5,308.1 335.0,305.6 338.8,305.0 342.5,303.8 343.8,302.8 339.4,301.2 335.0,299.4 333.1,296.9 331.9,294.4 331.2,290.0 331.9,286.9Z" fill="#fe9929"/><path d="M343.8,302.8 348.8,301.5 345.0,299.4 340.0,297.5 335.6,295.6 331.9,294.4 333.1,296.9 335.0,299.4 339.4,301.2Z" fill="#fe9929"/><path d="M270.0,276.9 268.1,273.8 265.0,275.6 261.9,278.1 258.8,275.6 255.0,273.8 251.2,271.2 248.1,268.1 245.0,266.5 241.2,270.0 238.1,273.1 235.2,275.0 235.0,276.9 236.9,278.8 240.0,280.0 243.1,282.5 245.0,286.2 244.4,290.0 247.5,292.5 251.2,295.0 255.0,298.1 258.1,301.2 260.6,305.0 261.9,306.2 266.2,306.2 270.0,305.6 273.5,303.5 275.0,300.0 272.5,297.5 269.4,295.0 267.5,291.2 268.1,286.2 268.8,281.2Z" fill="#ffffd4"/><path d="M273.5,303.5 270.0,305.6 266.2,306.2 261.9,306.2 261.2,310.6 258.8,314.4 256.9,318.1 256.9,322.5 255.6,326.2 258.1,328.8 260.0,332.5 261.9,336.9 263.1,341.2 264.8,345.0 268.1,343.1 270.6,346.9 271.9,345.0 273.8,341.2 273.1,336.2 274.4,331.9 277.5,329.4 281.2,329.4 283.1,332.5 283.8,335.0 286.9,336.2 290.0,338.1 292.5,341.2 294.0,344.6 294.4,343.8 295.0,340.0 294.4,336.2 293.1,331.2 291.2,327.5 290.0,323.1 288.1,319.8 285.6,319.8 283.1,317.5 280.0,314.4 277.5,311.2 275.6,307.5Z" fill="#ffffd4"/><path d="M288.1,319.8 290.0,323.1 291.2,327.5 293.1,331.2 294.4,336.2 295.0,340.0 294.4,343.8 294.0,344.6 293.8,348.8 294.4,353.8 293.8,358.1 296.2,360.6 298.8,362.5 299.4,365.6 300.6,362.5 300.0,358.1 299.4,353.8 301.2,350.0 302.5,346.2 305.0,342.5 308.1,341.2 311.9,340.6 314.4,343.1 315.6,347.5 317.5,351.2 320.0,354.4 322.5,358.1 326.2,359.4 328.8,362.5 332.8,362.8 331.9,360.0 329.4,357.5 327.5,353.8 325.6,350.0 326.2,346.2 328.1,342.5 327.5,338.8 326.2,335.0 325.0,330.6 323.1,327.5 322.0,326.2 321.2,326.9 317.5,328.1 313.8,327.5 310.0,325.6 308.1,321.9 306.9,317.5 305.0,313.1 301.9,311.2 298.8,310.6 296.2,312.5 293.8,315.0 290.0,313.1 288.1,315.0Z" fill="#fe9929"/><path d="M383.0,427.0 381.0,421.0 378.0,420.0 379.0,416.0 377.0,413.0 374.0,414.0 372.0,417.0 366.0,417.6 361.0,417.0 360.0,414.0 359.0,407.6 357.0,409.0 356.0,418.0 353.0,417.0 351.6,409.6 350.0,412.0 349.0,419.0 348.4,422.0 349.0,426.0 348.0,431.0 352.0,433.6 358.0,434.0 366.0,435.0 374.0,435.6 380.0,437.0 384.0,437.6 384.4,432.0Z" fill="#ffffd4"/><path d="M415.0,423.6 412.0,424.4 406.0,423.6 400.0,424.4 394.0,426.0 388.0,427.0 383.0,427.0 384.4,432.0 384.0,437.6 386.0,437.0 392.0,439.0 398.0,441.0 402.0,442.4 407.0,442.0 409.0,438.0 412.0,436.0 413.0,430.0Z" fill="#fed98e"/><path d="M442.0,431.6 438.0,430.0 432.0,429.0 426.0,428.4 420.0,428.0 418.0,425.0 415.0,423.6 413.0,430.0 412.0,436.0 409.0,438.0 407.0,442.0 406.0,445.0 405.0,450.0 407.0,453.6 414.0,453.0 422.0,452.4 430.0,451.0 438.0,450.0 444.0,449.0 442.0,447.0 439.0,443.0 437.0,439.0 439.0,435.0Z" fill="#ffffd4"/><path d="M444.0,449.0 452.0,449.0 460.0,448.0 468.0,448.0 474.0,447.0 477.0,443.0 478.0,437.0 480.0,432.0 477.0,430.0 475.0,434.0 470.0,435.0 464.0,436.0 458.0,438.0 457.0,441.0 453.0,440.0 452.0,436.0 454.0,432.0 452.0,429.0 446.0,430.0 442.0,431.6 439.0,435.0 437.0,439.0 439.0,443.0 442.0,447.0Z" fill="#fe9929"/><path d="M400.0,103.1 404.4,103.8 407.5,107.5 407.5,112.5 403.8,115.0 400.0,116.5 396.9,113.8 394.4,111.9 395.6,107.5 397.5,104.4Z" fill="#fed98e"/><path d="M438.5,121.9 441.9,120.0 446.2,120.0 450.0,121.9 450.0,125.0 446.2,126.9 441.9,126.2 439.4,124.0Z" fill="#fe9929"/><path d="M325.6,216.0 327.5,212.5 331.2,210.6 336.2,209.4 340.0,210.0 341.9,213.1 344.4,216.9 347.5,220.0 351.2,222.5 355.0,224.4 358.8,226.2 363.8,228.8 368.8,229.4 373.8,228.8 376.9,230.2 377.5,233.8 380.6,237.5 380.0,241.2 380.6,245.6 381.9,250.0 383.8,255.0 386.2,258.1 390.0,260.0 395.0,260.6 398.8,261.2 398.1,266.2 396.9,271.2 394.4,273.1 391.9,270.0 388.8,268.1 386.9,270.0 385.0,265.0 381.9,263.1 379.4,261.2 378.1,257.5 377.5,253.8 376.2,250.0 374.6,247.5 372.5,246.9 368.8,247.1 363.8,246.5 358.8,245.8 354.6,244.8 352.8,241.0 351.2,237.5 348.8,235.0 345.0,231.2 342.5,228.8 340.0,226.2 337.5,223.8 332.5,220.0 328.8,218.1Z" fill="#fe9929"/><path d="M419.4,151.2 422.5,150.0 423.8,148.8 425.6,150.6 428.8,150.0 430.6,152.5 433.8,150.6 436.2,148.8 438.8,148.1 439.0,150.6 436.9,153.8 435.6,157.5 435.0,161.9 433.1,163.1 431.2,161.2 430.6,157.5 428.8,158.8 428.8,161.9 424.4,162.5 423.1,160.0 420.6,160.0 419.8,157.5 420.6,155.0 419.4,153.1Z" fill="#fe9929"/><path d="M415.6,177.5 418.1,176.5 420.0,178.1 419.0,181.2 416.9,182.8 415.6,180.6Z" fill="#000" stroke-width="0.6"/><path d="M456.9,195.0 459.4,192.5 463.8,191.9 468.8,190.0 471.9,187.5 476.2,186.9 480.6,186.9 482.5,189.4 485.0,190.6 483.8,193.1 486.2,196.2 489.4,200.0 491.9,204.4 493.1,208.1 491.2,210.0 488.8,211.9 484.4,212.5 480.0,211.2 475.6,210.0 471.9,208.8 470.0,206.2 466.9,205.0 463.8,203.1 460.0,201.2 457.5,198.8Z" fill="#fe9929"/><path d="M471.2,202.8 472.5,200.2 475.0,198.5 477.2,199.0 476.2,201.5 473.8,203.2 472.0,204.0Z" fill="#fff"/><path d="M485.4,204.0 487.5,203.5 488.5,205.6 486.5,206.2Z" fill="#fff"/><path d="M440.6,235.6 442.5,233.5 445.6,233.1 446.9,235.6 445.6,238.1 441.9,238.8Z" fill="#000" stroke-width="0.6"/><path d="M456.2,236.9 458.8,234.4 463.8,233.8 467.5,234.4 470.6,236.2 471.9,240.0 470.6,243.8 471.2,248.1 471.9,251.9 470.0,255.6 466.9,258.8 464.4,261.2 461.2,259.4 458.1,256.9 458.1,253.8 461.2,251.2 463.1,248.1 462.8,244.4 460.6,241.9 458.1,240.0Z" fill="#ffffd4"/><path d="M471.9,237.5 474.4,236.9 478.1,238.8 478.8,241.0 476.2,241.2 473.1,239.8Z" fill="#000" stroke-width="0.6"/><path d="M462.8,297.5 465.0,294.4 468.8,291.9 473.8,290.6 478.1,288.8 481.2,288.1 481.5,290.0 478.8,292.5 475.0,295.0 471.2,296.9 466.9,299.0 463.8,299.4Z" fill="#ffffd4"/><path d="M491.2,285.0 493.8,282.5 498.1,280.6 503.1,280.6 506.9,281.9 509.4,283.1 511.9,282.5 515.0,283.8 514.4,286.9 511.2,287.5 508.1,289.4 505.6,291.9 502.5,291.9 500.6,289.4 498.1,287.5 495.0,286.9 492.5,288.8 491.2,287.5Z" fill="#ffffd4"/><path d="M508.8,282.8 511.9,281.9 515.2,283.8 514.4,287.2 511.2,287.5 510.0,285.0Z" fill="#000" stroke-width="0.6"/><path d="M482.5,293.1 485.6,291.9 487.5,290.0 490.0,290.6 491.9,293.1 490.0,295.6 490.6,298.8 488.1,300.0 486.2,297.5 483.8,297.5Z" fill="#000" stroke-width="0.6"/><path d="M402.8,273.1 405.6,271.2 408.8,272.5 411.9,275.6 415.0,277.5 416.9,281.2 416.9,285.0 415.6,287.5 413.1,285.6 411.2,282.5 408.1,280.0 405.0,277.5 403.1,275.6Z" fill="#fed98e"/><path d="M416.9,289.4 420.0,290.0 423.8,290.6 427.5,291.9 429.4,294.4 428.8,296.9 426.2,298.1 423.1,296.2 420.0,293.8 417.5,291.9Z" fill="#fed98e"/><path d="M426.9,303.8 430.0,301.9 433.1,300.0 436.9,300.0 440.0,301.9 439.4,303.8 436.2,305.0 433.1,305.6 430.0,306.9 427.5,306.9Z" fill="#fed98e"/><path d="M382.5,293.1 384.4,289.4 386.9,288.1 389.8,290.0 389.4,293.8 387.5,296.9 384.4,298.1 382.5,296.2Z" fill="#fed98e"/><path d="M387.5,303.8 390.0,300.6 392.5,302.5 393.1,306.2 391.2,309.4 388.8,311.9 387.2,310.0 387.8,306.9Z" fill="#fed98e"/><path d="M410.6,301.2 413.1,299.4 415.6,301.9 416.2,305.6 413.8,307.5 411.0,306.2Z" fill="#fed98e"/><path d="M401.2,291.9 405.0,291.2 406.2,293.8 403.1,294.4Z" fill="#000" stroke-width="0.6"/><path d="M390.0,318.1 393.1,316.9 396.2,318.8 395.6,321.9 392.5,323.1 390.0,321.2Z" fill="#fed98e"/><path d="M400.0,327.5 403.1,328.1 406.2,331.2 406.2,335.0 403.8,335.6 401.2,332.5Z" fill="#fed98e"/><path d="M415.6,332.5 419.4,328.1 422.5,323.8 426.2,320.6 430.6,320.0 431.2,323.8 429.4,328.1 426.2,330.6 421.9,331.2 419.4,333.1Z" fill="#fed98e"/><path d="M433.8,324.4 436.9,320.6 441.2,317.5 444.4,319.4 445.6,323.8 445.0,328.8 441.9,332.5 438.1,333.8 435.6,331.2 434.4,327.5Z" fill="#fed98e"/><path d="M436.9,337.5 440.0,335.6 443.8,334.0 445.0,336.2 441.9,338.8 438.1,340.0Z" fill="#000" stroke-width="0.6"/><path d="M451.9,341.9 456.2,339.4 460.0,336.2 463.8,333.8 468.1,334.4 466.2,336.9 461.9,339.4 457.5,342.5 453.1,343.1Z" fill="#000" stroke-width="0.6"/><path d="M453.1,321.9 455.6,320.6 457.5,322.5 456.2,325.0 453.8,324.4Z" fill="#000" stroke-width="0.6"/><path d="M428.8,343.8 431.9,341.9 435.0,344.4 436.2,348.1 434.4,350.6 431.2,348.8Z" fill="#fed98e"/><path d="M409.4,350.0 411.2,349.0 415.6,351.9 414.4,353.8 410.6,352.5Z" fill="#000" stroke-width="0.6"/><path d="M417.5,350.6 421.2,348.1 425.6,346.2 426.2,348.1 422.5,350.6 418.8,352.2Z" fill="#000" stroke-width="0.6"/><path d="M385.0,346.2 388.1,343.8 391.9,343.8 394.4,341.9 396.9,338.8 400.0,340.0 401.2,343.8 398.1,344.4 396.2,347.5 392.5,350.0 388.1,350.6 385.0,349.4Z" fill="#fed98e"/><path d="M432.5,361.9 436.2,360.6 440.0,363.1 440.0,367.5 436.9,368.8 433.8,366.9Z" fill="#fed98e"/><path d="M451.2,366.2 454.4,364.8 457.5,366.9 455.0,368.8 451.9,368.5Z" fill="#000" stroke-width="0.6"/><path d="M374.8,285.0 376.9,284.0 377.8,286.9 376.2,290.0 374.8,288.8Z" fill="#fe9929"/><path d="M545.0,380.6 548.1,376.2 551.2,372.5 555.0,369.4 558.8,366.9 563.1,364.4 567.5,362.5 569.8,363.1 569.4,366.9 567.5,371.2 566.2,375.6 563.1,380.6 561.2,385.0 558.1,387.5 555.0,390.0 551.9,393.1 548.8,395.6 546.2,396.2 545.0,393.1 546.2,388.8 545.6,384.4Z" fill="#ffffd4"/><path d="M506.9,344.4 510.0,343.1 513.1,340.6 516.2,338.1 520.0,336.2 524.4,335.0 528.1,336.2 526.9,338.8 523.1,340.0 519.4,341.9 516.2,344.4 513.1,344.4 510.6,346.2 509.4,348.8 506.9,347.5Z" fill="#ffffd4"/><path d="M505.6,328.1 508.1,325.6 511.9,326.9 513.8,330.0 511.9,333.1 508.1,334.4 506.2,331.9Z" fill="#fed98e"/><path d="M499.4,317.5 501.9,316.2 505.0,320.0 506.9,325.0 505.6,327.8 503.1,325.0 500.6,321.2Z" fill="#000" stroke-width="0.6"/><path d="M496.9,305.6 499.4,304.4 501.2,307.5 501.9,312.5 500.0,314.4 498.1,311.9 497.5,308.8Z" fill="#000" stroke-width="0.6"/><path d="M488.1,308.1 490.6,306.2 493.1,308.1 492.5,312.5 490.0,313.8 488.5,311.2Z" fill="#000" stroke-width="0.6"/><path d="M506.9,300.6 510.0,300.0 511.9,301.9 510.6,303.8 507.8,303.1Z" fill="#000" stroke-width="0.6"/><path d="M513.1,332.2 516.9,331.5 520.0,332.8 519.4,334.5 515.6,334.4Z" fill="#000" stroke-width="0.6"/><path d="M516.9,354.0 518.5,352.0 520.6,352.5 521.5,354.8 520.0,356.2 517.8,356.0Z" fill="#fff"/><path d="M515.6,349.0 517.5,348.1 518.8,349.8 517.2,351.2Z" fill="#000" stroke-width="0.6"/><path d="M523.8,360.6 526.9,360.0 530.0,363.1 533.1,366.2 532.5,368.1 529.4,366.9 526.2,364.4 524.0,362.5Z" fill="#000" stroke-width="0.6"/><path d="M546.2,351.9 550.0,349.4 553.1,351.2 553.1,356.2 550.6,358.8 547.5,356.2Z" fill="#000" stroke-width="0.6"/><path d="M535.0,374.4 540.0,373.8 541.2,376.2 536.9,377.2Z" fill="#000" stroke-width="0.6"/><path d="M542.5,373.1 545.0,371.9 546.2,374.4 544.4,376.2Z" fill="#000" stroke-width="0.6"/><path d="M480.0,351.2 483.1,350.0 486.2,352.5 486.9,356.9 484.4,358.8 482.5,356.9 480.6,358.8 478.8,356.2Z" fill="#000" stroke-width="0.6"/><path d="M480.6,329.4 484.4,328.1 488.1,329.0 487.5,330.9 483.8,331.2 481.0,331.0Z" fill="#000" stroke-width="0.6"/><path d="M520.0,396.9 521.9,394.4 523.1,396.2 522.5,401.2 521.2,406.2 520.6,411.2 521.9,415.6 523.1,419.4 520.6,422.5 518.1,425.6 515.6,423.1 515.0,419.4 515.6,415.6 513.8,413.1 515.6,409.4 517.5,405.6 518.8,401.2Z" fill="#fff"/><path d="M520.0,396.9 521.9,394.4 523.1,396.2 522.8,400.6 520.2,400.6Z" fill="#000" stroke-width="0.6"/><path d="M503.1,426.9 506.9,424.4 511.9,422.5 511.9,424.4 508.1,427.5 504.4,429.0Z" fill="#000" stroke-width="0.6"/><path d="M165.6,164.4 168.1,162.5 172.5,162.5 175.6,160.6 178.8,161.9 180.6,164.4 178.8,166.9 176.9,169.4 178.1,172.5 179.4,176.2 180.6,180.0 183.1,182.5 185.6,183.1 188.1,185.6 188.1,188.1 185.0,187.5 181.9,185.6 178.8,183.8 176.2,180.6 175.0,176.9 173.1,173.8 170.6,171.2 168.1,168.1Z" fill="#fff"/><path d="M188.1,195.6 190.0,195.0 195.6,201.9 194.4,203.1 190.6,199.4Z" fill="#000" stroke-width="0.6"/><path d="M183.1,168.5 185.6,168.1 191.2,170.6 190.6,172.2 186.2,171.0Z" fill="#000" stroke-width="0.6"/><path d="M210.6,221.9 215.0,220.0 218.1,221.2 217.5,226.2 215.6,231.2 211.9,233.1 208.8,232.5 209.4,227.5Z" fill="#fff"/><path d="M215.6,226.9 218.1,225.6 221.2,228.8 220.6,233.1 218.1,233.8 216.2,230.6Z" fill="#000" stroke-width="0.6"/><path d="M223.1,232.5 225.6,231.0 228.1,233.8 226.9,237.5 224.4,237.2Z" fill="#000" stroke-width="0.6"/><path d="M199.4,257.5 200.0,253.8 201.9,250.6 203.1,248.8 205.0,249.4 206.2,252.5 207.5,248.8 208.8,243.8 210.6,241.2 211.9,245.0 212.5,250.0 214.4,253.8 216.9,256.9 219.4,260.0 221.5,263.1 220.6,265.6 216.2,265.0 212.5,263.8 208.8,264.4 206.9,262.5 204.4,261.2 201.9,260.0Z" fill="#ffffd4"/><path d="M212.5,240.0 215.0,239.4 216.9,242.5 218.1,246.9 218.8,251.2 216.2,252.5 214.4,248.8 215.0,245.6 213.1,243.8Z" fill="#000" stroke-width="0.6"/><path d="M212.5,276.9 215.6,274.4 218.1,276.2 220.6,278.8 223.8,280.6 226.2,283.8 229.4,285.6 229.4,287.5 226.2,286.9 223.8,288.1 222.5,290.6 219.4,290.0 216.9,286.9 214.4,283.1 212.5,280.0Z" fill="#ffffd4"/><path d="M319.4,368.1 321.2,366.0 323.8,368.1 326.2,371.2 329.0,375.0 327.5,377.5 326.2,381.2 323.1,380.0 320.0,378.1 318.8,374.4 318.5,370.6Z" fill="#fe9929"/><path d="M343.0,270.0 345.6,268.2 350.0,268.2 353.8,270.0 354.0,273.5 351.9,276.2 348.8,277.5 345.6,276.9 343.5,274.4Z" fill="#000" stroke-width="0.6"/><path d="M343.8,283.8 346.9,283.1 350.0,284.0 349.8,287.2 346.9,289.0 344.4,287.5Z" fill="#fe9929"/><path d="M338.1,291.9 340.6,290.6 343.8,291.9 343.5,295.0 340.0,295.6Z" fill="#000" stroke-width="0.6"/><path d="M344.0,296.2 346.9,295.6 348.8,298.1 346.9,300.0 344.4,298.8Z" fill="#000" stroke-width="0.6"/><path d="M336.9,308.5 341.2,307.5 346.2,306.9 351.2,307.5 350.6,310.0 345.6,310.6 340.6,311.9 337.2,311.0Z" fill="#000" stroke-width="0.6"/><path d="M327.5,312.5 330.0,311.2 332.5,313.1 331.9,316.2 328.8,316.2Z" fill="#000" stroke-width="0.6"/><path d="M342.5,199.4 345.0,197.5 348.1,198.8 347.8,201.9 345.0,203.1 342.8,201.9Z" fill="#fe9929"/><path d="M351.2,198.1 353.1,197.5 355.6,200.6 358.8,201.9 361.9,200.6 364.4,197.5 366.9,194.4 369.4,193.8 370.6,196.2 369.4,200.0 366.2,202.5 362.5,205.0 358.1,205.6 354.4,204.4 352.2,201.2Z" fill="#fe9929"/><path d="M373.1,205.0 375.6,203.8 376.9,205.6 375.0,208.1 373.1,207.5Z" fill="#000" stroke-width="0.6"/><path d="M371.9,190.0 376.2,190.0 375.6,192.2 372.8,192.5Z" fill="#000" stroke-width="0.6"/><path d="M391.2,210.6 393.1,209.4 395.6,212.5 398.1,216.9 401.2,219.4 402.5,222.5 399.4,225.0 396.2,223.1 393.1,220.6 391.2,217.5 391.0,213.8Z" fill="#fe9929"/><path d="M365.6,127.8 368.8,126.9 370.6,123.8 371.9,127.5 372.2,131.2 368.8,132.2 366.0,131.2Z" fill="#000" stroke-width="0.6"/><path d="M325.0,200.2 328.1,198.8 331.9,198.8 334.4,201.0 335.0,203.8 332.5,205.0 328.1,205.0 325.2,203.8Z" fill="#000" stroke-width="0.6"/><path d="M218.5,205.0 221.2,203.1 222.8,205.6 221.9,208.8 219.4,210.0 217.8,207.8Z" fill="#000" stroke-width="0.6"/><path d="M229.8,237.5 231.9,236.9 234.4,241.2 236.5,245.6 236.0,250.6 233.8,251.2 232.5,246.2 230.6,241.9Z" fill="#000" stroke-width="0.6"/><path d="M224.0,231.5 226.2,230.6 227.8,233.8 226.9,236.2 224.8,235.6Z" fill="#000" stroke-width="0.6"/><path d="M229.4,238.1 231.9,237.5 235.0,242.5 236.2,247.5 234.4,250.0 231.9,246.2 230.0,242.5Z" fill="#000" stroke-width="0.6"/><g fill="#000" stroke="none"><circle cx="265.0" cy="345.0" r="1.9"/><circle cx="255.6" cy="326.2" r="1.2"/><circle cx="321.9" cy="360.6" r="1.9"/><circle cx="299.4" cy="365.0" r="1.3"/><circle cx="632.5" cy="380.6" r="1.4"/><circle cx="628.0" cy="380.0" r="0.6"/><circle cx="509.8" cy="359.0" r="1.0"/><circle cx="495.6" cy="368.5" r="1.1"/><circle cx="499.4" cy="371.9" r="1.1"/><circle cx="483.1" cy="385.2" r="1.1"/><circle cx="502.9" cy="396.0" r="1.0"/><circle cx="515.3" cy="312.2" r="1.5"/><circle cx="485.6" cy="399.7" r="1.0"/><circle cx="480.0" cy="432.5" r="0.9"/><circle cx="381.2" cy="342.0" r="1.2"/><circle cx="427.0" cy="374.5" r="1.0"/><circle cx="457.0" cy="371.2" r="1.0"/><circle cx="459.0" cy="372.5" r="0.8"/><circle cx="449.5" cy="351.2" r="0.9"/><circle cx="471.2" cy="357.0" r="1.0"/><circle cx="492.5" cy="363.7" r="0.9"/><circle cx="475.0" cy="397.5" r="0.9"/><circle cx="427.0" cy="422.0" r="1.6"/><circle cx="472.0" cy="427.0" r="1.0"/><circle cx="374.0" cy="458.0" r="2.2"/><circle cx="370.0" cy="453.0" r="1.0"/><circle cx="398.0" cy="448.0" r="1.0"/><circle cx="451.0" cy="456.6" r="1.2"/><circle cx="453.0" cy="456.6" r="1.0"/><circle cx="470.4" cy="452.4" r="1.2"/><circle cx="154.7" cy="159.0" r="1.8"/><circle cx="163.1" cy="156.9" r="1.3"/><circle cx="160.6" cy="163.7" r="1.3"/><circle cx="216.2" cy="236.5" r="1.3"/><circle cx="220.8" cy="240.6" r="1.3"/><circle cx="230.0" cy="313.8" r="1.3"/><circle cx="323.1" cy="383.1" r="0.9"/><circle cx="337.5" cy="396.5" r="0.8"/><circle cx="335.0" cy="280.6" r="1.2"/><circle cx="339.0" cy="281.5" r="0.9"/><circle cx="336.0" cy="287.5" r="1.2"/><circle cx="340.6" cy="287.5" r="1.3"/><circle cx="366.2" cy="301.2" r="1.6"/><circle cx="345.0" cy="333.7" r="1.5"/><circle cx="365.0" cy="339.4" r="1.0"/><circle cx="322.7" cy="263.1" r="1.1"/><circle cx="443.7" cy="305.0" r="1.0"/><circle cx="386.9" cy="219.7" r="1.3"/></g></g>
<g class="t"><text x="83" y="26.8" textLength="621.5" lengthAdjust="spacingAndGlyphs" font-size="13" font-weight="bold" fill="#111" stroke="#111" stroke-width="0.2">Διάγραμμα 4: Χάρτης αθροιστικής επίπτωσης επιβεβαιωμένων κρουσμάτων COVID-19, 21 Ιανουαρίου 2021</text><text x="160.5" y="42.6" textLength="466" lengthAdjust="spacingAndGlyphs" font-size="11" font-weight="normal" fill="#444" stroke="#444" stroke-width="0.25">Με βάση τον τόπο μόνιμης κατοικίας, ή προσωρινής διαμονής (για τους προσωρινά διαμένοντες)</text><text x="18" y="506.8" textLength="751.5" lengthAdjust="spacingAndGlyphs" font-size="13" font-weight="bold" fill="#111" stroke="#111" stroke-width="0.2">Διάγραμμα 5: Χάρτης επίπτωσης τελευταίων δεκατεσσάρων ημερών επιβεβαιωμένων κρουσμάτων COVID-19, 21 Ιανουαρίου 2021</text><text x="160.5" y="522.6" textLength="466" lengthAdjust="spacingAndGlyphs" font-size="11" font-weight="normal" fill="#444" stroke="#444" stroke-width="0.25">Με βάση τον τόπο μόνιμης κατοικίας, ή προσωρινής διαμονής (για τους προσωρινά διαμένοντες)</text><text x="22.9" y="346.6" textLength="194.7" lengthAdjust="spacingAndGlyphs" font-size="13.2" font-weight="normal" fill="#333" stroke="#333" stroke-width="0.45">Κρούσματα / 100.000 πληθυσμού</text><text x="66.2" y="362.4" textLength="109.4" lengthAdjust="spacingAndGlyphs" font-size="13.2" font-weight="normal" fill="#333" stroke="#333" stroke-width="0.45">(από Μάρτιο 2020)</text><rect x="77.5" y="372.6" width="12.3" height="11.6" fill="#ffffd4"/><text x="96.4" y="382.3" textLength="37.5" lengthAdjust="spacingAndGlyphs" font-size="11.5" font-weight="normal" fill="#333" stroke="#333" stroke-width="0.4">&lt;200.0</text><rect x="77.5" y="388.4" width="12.3" height="11.6" fill="#fed98e"/><text x="96.4" y="398.1" textLength="65" lengthAdjust="spacingAndGlyphs" font-size="11.5" font-weight="normal" fill="#333" stroke="#333" stroke-width="0.4">200.0-399.9</text><rect x="77.5" y="404.2" width="12.3" height="11.6" fill="#fe9929"/><text x="96.4" y="413.8" textLength="65.6" lengthAdjust="spacingAndGlyphs" font-size="11.5" font-weight="normal" fill="#333" stroke="#333" stroke-width="0.4">400.0-599.9</text><rect x="77.5" y="420.0" width="12.3" height="11.6" fill="#cc4c02"/><text x="96.4" y="429.6" textLength="37.5" lengthAdjust="spacingAndGlyphs" font-size="11.5" font-weight="normal" fill="#333" stroke="#333" stroke-width="0.4">≥600.0</text><text x="31.7" y="826.6" textLength="194.6" lengthAdjust="spacingAndGlyphs" font-size="13.2" font-weight="normal" fill="#333" stroke="#333" stroke-width="0.45">Κρούσματα / 100.000 πληθυσμού</text><text x="21.3" y="842.4" textLength="210.8" lengthAdjust="spacingAndGlyphs" font-size="13.2" font-weight="normal" fill="#333" stroke="#333" stroke-width="0.45">(τελευταίων δεκατεσσάρων ημερών)</text><rect x="91.2" y="853.6" width="12.3" height="11.6" fill="#ffffd4"/><text x="109.3" y="862.5" textLength="28.7" lengthAdjust="spacingAndGlyphs" font-size="11.5" font-weight="normal" fill="#333" stroke="#333" stroke-width="0.4">&lt;25.0</text><rect x="91.2" y="869.3" width="12.3" height="11.6" fill="#fed98e"/><text x="109.3" y="878.1" textLength="52.3" lengthAdjust="spacingAndGlyphs" font-size="11.5" font-weight="normal" fill="#333" stroke="#333" stroke-width="0.4">25.0-49.9</text><rect x="91.2" y="885.0" width="12.3" height="11.6" fill="#fe9929"/><text x="109.3" y="893.7" textLength="56.7" lengthAdjust="spacingAndGlyphs" font-size="11.5" font-weight="normal" fill="#333" stroke="#333" stroke-width="0.4">50.0-149.9</text><rect x="91.2" y="900.7" width="12.3" height="11.6" fill="#cc4c02"/><text x="109.3" y="909.3" textLength="35.7" lengthAdjust="spacingAndGlyphs" font-size="11.5" font-weight="normal" fill="#333" stroke="#333" stroke-width="0.4">≥150.0</text><text x="391" y="1026" textLength="7" lengthAdjust="spacingAndGlyphs" font-size="12.5" font-weight="normal" fill="#222" stroke="#222" stroke-width="0.3">4</text></g>
</svg>
</body></html>
